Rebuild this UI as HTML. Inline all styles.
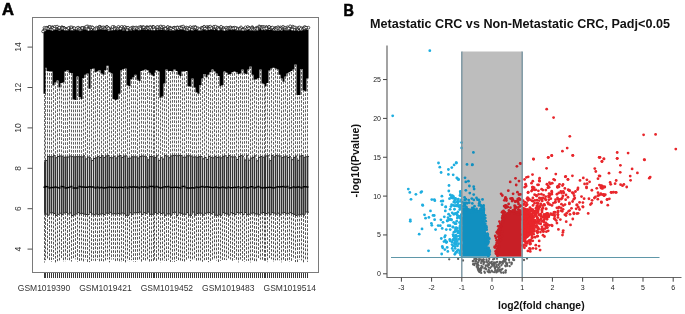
<!DOCTYPE html>
<html><head><meta charset="utf-8"><style>
html,body{margin:0;padding:0;background:#fff;width:685px;height:314px;overflow:hidden}
svg{display:block;filter:blur(0.35px)}
text{font-family:"Liberation Sans",sans-serif}
.ta{font-size:8.5px;fill:#333}
.tx{font-size:8.5px;fill:#333}
.tb{font-size:7px;fill:#1a1a1a}
.lab{font-size:15px;font-weight:bold;fill:#000;stroke:#000;stroke-width:0.6px}
.ttl{font-size:12.6px;font-weight:bold;fill:#111}
.axl{font-size:10.4px;font-weight:bold;fill:#111}
</style></head><body>
<svg width="685" height="314" viewBox="0 0 685 314">
<text x="2" y="14.8" class="lab" style="font-size:16.5px">A</text>
<text x="0" y="0" transform="translate(343.6,15.5) scale(0.84,1)" class="lab" style="font-size:17.2px">B</text>
<rect x="32.5" y="17.5" width="286" height="255" fill="none" stroke="#7a7a7a" stroke-width="1"/><line x1="27.5" x2="32.5" y1="249.1" y2="249.1" stroke="#555" stroke-width="1"/><text x="0" y="0" transform="translate(21,249.1) rotate(-90)" text-anchor="middle" class="ta">4</text><line x1="27.5" x2="32.5" y1="208.7" y2="208.7" stroke="#555" stroke-width="1"/><text x="0" y="0" transform="translate(21,208.7) rotate(-90)" text-anchor="middle" class="ta">6</text><line x1="27.5" x2="32.5" y1="168.3" y2="168.3" stroke="#555" stroke-width="1"/><text x="0" y="0" transform="translate(21,168.3) rotate(-90)" text-anchor="middle" class="ta">8</text><line x1="27.5" x2="32.5" y1="127.9" y2="127.9" stroke="#555" stroke-width="1"/><text x="0" y="0" transform="translate(21,127.9) rotate(-90)" text-anchor="middle" class="ta">10</text><line x1="27.5" x2="32.5" y1="87.5" y2="87.5" stroke="#555" stroke-width="1"/><text x="0" y="0" transform="translate(21,87.5) rotate(-90)" text-anchor="middle" class="ta">12</text><line x1="27.5" x2="32.5" y1="47.1" y2="47.1" stroke="#555" stroke-width="1"/><text x="0" y="0" transform="translate(21,47.1) rotate(-90)" text-anchor="middle" class="ta">14</text><path d="M44.5 273V278M45.5 273V278M47.5 273V278M49.5 273V278M51.5 273V278M53.5 273V278M55.5 273V278M57.5 273V278M59.5 273V278M61.5 273V278M63.5 273V278M65.5 273V278M67.5 273V278M69.5 273V278M71.5 273V278M73.5 273V278M75.5 273V278M77.5 273V278M79.5 273V278M81.5 273V278M83.5 273V278M85.5 273V278M87.5 273V278M89.5 273V278M91.5 273V278M93.5 273V278M95.5 273V278M97.5 273V278M99.5 273V278M101.5 273V278M103.5 273V278M105.5 273V278M107.5 273V278M109.5 273V278M111.5 273V278M113.5 273V278M115.5 273V278M117.5 273V278M119.5 273V278M121.5 273V278M123.5 273V278M125.5 273V278M127.5 273V278M129.5 273V278M131.5 273V278M133.5 273V278M135.5 273V278M137.5 273V278M139.5 273V278M141.5 273V278M143.5 273V278M145.5 273V278M147.5 273V278M149.5 273V278M151.5 273V278M153.5 273V278M154.5 273V278M156.5 273V278M158.5 273V278M160.5 273V278M162.5 273V278M164.5 273V278M166.5 273V278M168.5 273V278M170.5 273V278M172.5 273V278M174.5 273V278M176.5 273V278M178.5 273V278M180.5 273V278M182.5 273V278M184.5 273V278M186.5 273V278M188.5 273V278M190.5 273V278M192.5 273V278M194.5 273V278M196.5 273V278M198.5 273V278M200.5 273V278M202.5 273V278M204.5 273V278M206.5 273V278M208.5 273V278M210.5 273V278M212.5 273V278M214.5 273V278M216.5 273V278M218.5 273V278M220.5 273V278M222.5 273V278M224.5 273V278M226.5 273V278M228.5 273V278M230.5 273V278M232.5 273V278M234.5 273V278M236.5 273V278M238.5 273V278M240.5 273V278M242.5 273V278M244.5 273V278M246.5 273V278M248.5 273V278M250.5 273V278M252.5 273V278M254.5 273V278M256.5 273V278M258.5 273V278M260.5 273V278M262.5 273V278M264.5 273V278M265.5 273V278M267.5 273V278M269.5 273V278M271.5 273V278M273.5 273V278M275.5 273V278M277.5 273V278M279.5 273V278M281.5 273V278M283.5 273V278M285.5 273V278M287.5 273V278M289.5 273V278M291.5 273V278M293.5 273V278M295.5 273V278M297.5 273V278M299.5 273V278M301.5 273V278M303.5 273V278M305.5 273V278M307.5 273V278" stroke="#222" stroke-width="0.9" fill="none"/><text x="44" y="291" text-anchor="middle" class="tx">GSM1019390</text><text x="105.44" y="291" text-anchor="middle" class="tx">GSM1019421</text><text x="166.88" y="291" text-anchor="middle" class="tx">GSM1019452</text><text x="228.33" y="291" text-anchor="middle" class="tx">GSM1019483</text><text x="289.77" y="291" text-anchor="middle" class="tx">GSM1019514</text><path d="M44.5 162.5V93.8M45.5 160.46V67.7M47.5 156.46V70.9M49.5 156.69V71.5M51.5 156.78V71.5M53.5 155.35V85.6M55.5 157.73V82.4M57.5 156.5V80.5M59.5 155.97V87.5M61.5 156.22V83M63.5 157.27V82.4M65.5 157.06V71.5M67.5 157.02V70.3M69.5 156.06V72.8M71.5 156.63V73M73.5 156.83V99.6M75.5 156.7V100M77.5 156.69V76.6M79.5 156.67V97M81.5 156.9V99M83.5 155.76V78M85.5 158.91V74.7M87.5 157.1V73.5M89.5 157.73V88.7M91.5 160.56V69M93.5 158.54V68.4M95.5 157.81V72.2M97.5 156.64V71.5M99.5 157.52V70.3M101.5 155.67V73.5M103.5 157.57V74.7M105.5 155.96V70M107.5 155.38V65.8M109.5 157.61V72.2M111.5 157.8V73.5M113.5 156.26V99M115.5 157.95V100M117.5 156.22V99.6M119.5 155.59V93.8M121.5 157.56V70.3M123.5 156.08V69M125.5 155.85V68.4M127.5 158.33V85.6M129.5 158.18V86.2M131.5 156.7V79.2M133.5 156.86V77.3M135.5 156.88V74.7M137.5 158V79.8M139.5 156.57V81.1M141.5 155.99V70.9M143.5 156.33V70.3M145.5 156.74V69.6M147.5 159.76V70.3M149.5 156.51V72.8M151.5 156.61V74.7M153.5 157.6V76M154.5 157.45V72.8M156.5 155.84V70.3M158.5 160.42V71.5M160.5 157.72V97.7M162.5 159.03V96.4M164.5 155.67V83.6M166.5 156.11V69.6M168.5 157.72V70.9M170.5 155.92V70.9M172.5 155.4V71.5M174.5 155.42V69.6M176.5 155.78V70.9M178.5 155.4V74.7M180.5 155.57V76M182.5 157.28V71.5M184.5 157.23V71.5M186.5 155.75V70.9M188.5 155.79V86.2M190.5 156.07V86.8M192.5 157.13V78.6M194.5 156.85V87.5M196.5 157.34V92.6M198.5 156.62V93.8M200.5 156.6V85M202.5 158.82V78.6M204.5 157.56V74.1M206.5 159.45V77.3M208.5 156.45V74.7M210.5 157.37V72.2M212.5 157.85V69.6M214.5 156.39V71.5M216.5 157.43V73.5M218.5 156.91V76M220.5 157.83V86.2M222.5 156.34V85M224.5 155.84V71.5M226.5 157.54V72.8M228.5 155.6V74.7M230.5 156.82V74.1M232.5 156.99V72.2M234.5 156.74V71.5M236.5 159.51V72.2M238.5 156.54V74.1M240.5 155.58V73.5M242.5 156.27V69.6M244.5 159.98V73.5M246.5 155.71V74.1M248.5 160.21V69.6M250.5 158.08V66.5M252.5 157.38V74.7M254.5 155.88V79.8M256.5 160.77V79.2M258.5 157.39V78M260.5 156.53V69.6M262.5 157.25V83.6M264.5 157.15V84.3M265.5 155.98V86.2M267.5 155.76V83M269.5 160.62V70.5M271.5 155.45V68.4M273.5 156.85V67.7M275.5 155.38V68.4M277.5 155.9V69.6M279.5 156.02V74.7M281.5 157.65V78.6M283.5 156.84V81.7M285.5 156.17V76.6M287.5 157.5V73.5M289.5 156.68V72.2M291.5 159.68V70.9M293.5 157.46V69.6M295.5 156.09V64.5M297.5 160.32V95M299.5 156.06V95M301.5 155.56V69M303.5 157.32V90.6M305.5 156.76V91.3M307.5 156.44V78.6" stroke="#646464" stroke-width="1" stroke-dasharray="2.7 1.35" fill="none"/><path d="M44.5 212.84V262.49M45.5 214.13V260.19M47.5 215.16V259.52M49.5 212.84V260.31M51.5 212.76V261.94M53.5 213.49V259.59M55.5 215.42V262.41M57.5 214.32V261.17M59.5 213.22V261.8M61.5 214.66V259.27M63.5 212.95V261.8M65.5 212.35V261.18M67.5 213.91V259.83M69.5 212.98V260.34M71.5 215.55V261.57M73.5 214.92V259.35M75.5 213.93V259.38M77.5 212.62V261.81M79.5 213.7V261.76M81.5 213.39V260.49M83.5 214.18V261.78M85.5 214.5V259.44M87.5 214.63V262M89.5 212.36V262.11M91.5 214.03V260.95M93.5 214.71V260.5M95.5 214.05V261.11M97.5 214.59V259.81M99.5 214.1V262.45M101.5 213.73V261.18M103.5 214.58V261.43M105.5 213.13V260.6M107.5 213.37V259.46M109.5 212.35V262.31M111.5 213.93V259.57M113.5 213.64V259.56M115.5 213.99V261.1M117.5 213.45V260.99M119.5 214.04V261.41M121.5 213.05V261.98M123.5 213.74V261.18M125.5 215.33V262.32M127.5 215.35V260.27M129.5 212.72V261.51M131.5 214.34V260.21M133.5 212.75V261.78M135.5 212.67V261.98M137.5 212.59V261.25M139.5 212.11V260.31M141.5 214.36V262.17M143.5 212.66V260.56M145.5 213.31V260.57M147.5 212.08V260.74M149.5 214.33V262.49M151.5 214.32V261.13M153.5 213.68V261.25M154.5 212.39V260.8M156.5 213.67V261.6M158.5 212.22V259.98M160.5 213.51V262.33M162.5 213.06V260.91M164.5 215.27V260.66M166.5 213.89V260.99M168.5 213.93V259.75M170.5 215.26V261.96M172.5 212.6V261.71M174.5 212.22V261.89M176.5 215.57V261.01M178.5 212.83V260.71M180.5 213.34V260.9M182.5 214.2V261.03M184.5 214.27V261.9M186.5 212.6V259.69M188.5 215.15V259.36M190.5 215.38V261.19M192.5 212.08V260.34M194.5 215.05V259.79M196.5 213.45V261.08M198.5 213.15V260.38M200.5 213.23V261.33M202.5 215.05V261.77M204.5 213.3V260.19M206.5 212.75V260.64M208.5 212.43V262.1M210.5 213.76V262.45M212.5 212.3V260.66M214.5 215.18V259.87M216.5 215.31V260.51M218.5 214.77V262.2M220.5 215.34V260.85M222.5 212.64V260.03M224.5 213.31V259.97M226.5 214.08V260.09M228.5 215.11V259.68M230.5 212.73V259.51M232.5 213.52V261.04M234.5 214.61V259.77M236.5 212.42V260.48M238.5 212.94V262.38M240.5 212.49V259.48M242.5 214.68V260.86M244.5 212.47V261.61M246.5 214.66V260.8M248.5 214.26V260.91M250.5 213.18V262.4M252.5 212.83V260.57M254.5 213.84V261.31M256.5 214.1V261.26M258.5 214.77V259.27M260.5 213.1V259.64M262.5 212.5V259.74M264.5 213.41V260.74M265.5 213.51V261.69M267.5 212.92V262.12M269.5 214.76V259.3M271.5 212.58V259.27M273.5 213.05V262.02M275.5 214.13V260.33M277.5 213.2V260.2M279.5 214.85V260.33M281.5 213.04V262.32M283.5 212.45V261.1M285.5 213.75V261.77M287.5 213.3V260.41M289.5 212.62V261.63M291.5 213.63V261.66M293.5 214.38V259.29M295.5 215.44V262.04M297.5 214.88V262.04M299.5 214.7V259.77M301.5 214.16V260.4M303.5 215.05V262.49M305.5 212V259.79M307.5 212.16V261.81" stroke="#555" stroke-width="1" stroke-dasharray="2.7 1.35" fill="none"/><g><rect x="45" y="162.5" width="1" height="50.34" fill="#d8d8d8"/><rect x="46" y="160.46" width="1" height="53.67" fill="#b8b8b8"/><rect x="48" y="156.46" width="1" height="58.71" fill="#a8a8a8"/><rect x="50" y="156.69" width="1" height="56.15" fill="#9a9a9a"/><rect x="52" y="156.78" width="1" height="55.98" fill="#b8b8b8"/><rect x="54" y="155.35" width="1" height="58.14" fill="#9a9a9a"/><rect x="56" y="157.73" width="1" height="57.69" fill="#b8b8b8"/><rect x="58" y="156.5" width="1" height="57.82" fill="#d8d8d8"/><rect x="60" y="155.97" width="1" height="57.25" fill="#b8b8b8"/><rect x="62" y="156.22" width="1" height="58.44" fill="#8c8c8c"/><rect x="64" y="157.27" width="1" height="55.68" fill="#9a9a9a"/><rect x="66" y="157.06" width="1" height="55.29" fill="#8c8c8c"/><rect x="68" y="157.02" width="1" height="56.89" fill="#d8d8d8"/><rect x="70" y="156.06" width="1" height="56.92" fill="#c8c8c8"/><rect x="72" y="156.63" width="1" height="58.92" fill="#c8c8c8"/><rect x="74" y="156.83" width="1" height="58.09" fill="#8c8c8c"/><rect x="76" y="156.7" width="1" height="57.24" fill="#9a9a9a"/><rect x="78" y="156.69" width="1" height="55.93" fill="#a8a8a8"/><rect x="80" y="156.67" width="1" height="57.03" fill="#9a9a9a"/><rect x="82" y="156.9" width="1" height="56.49" fill="#b8b8b8"/><rect x="84" y="155.76" width="1" height="58.41" fill="#9a9a9a"/><rect x="86" y="158.91" width="1" height="55.59" fill="#c8c8c8"/><rect x="88" y="157.1" width="1" height="57.54" fill="#c8c8c8"/><rect x="90" y="157.73" width="1" height="54.63" fill="#9a9a9a"/><rect x="92" y="160.56" width="1" height="53.47" fill="#d8d8d8"/><rect x="94" y="158.54" width="1" height="56.17" fill="#c8c8c8"/><rect x="96" y="157.81" width="1" height="56.23" fill="#8c8c8c"/><rect x="98" y="156.64" width="1" height="57.94" fill="#a8a8a8"/><rect x="100" y="157.52" width="1" height="56.58" fill="#b8b8b8"/><rect x="102" y="155.67" width="1" height="58.05" fill="#8c8c8c"/><rect x="104" y="157.57" width="1" height="57.01" fill="#b8b8b8"/><rect x="106" y="155.96" width="1" height="57.17" fill="#9a9a9a"/><rect x="108" y="155.38" width="1" height="57.99" fill="#8c8c8c"/><rect x="110" y="157.61" width="1" height="54.74" fill="#b8b8b8"/><rect x="112" y="157.8" width="1" height="56.13" fill="#b8b8b8"/><rect x="114" y="156.26" width="1" height="57.37" fill="#b8b8b8"/><rect x="116" y="157.95" width="1" height="56.04" fill="#9a9a9a"/><rect x="118" y="156.22" width="1" height="57.23" fill="#b8b8b8"/><rect x="120" y="155.59" width="1" height="58.45" fill="#8c8c8c"/><rect x="122" y="157.56" width="1" height="55.5" fill="#c8c8c8"/><rect x="124" y="156.08" width="1" height="57.66" fill="#9a9a9a"/><rect x="126" y="155.85" width="1" height="59.48" fill="#b8b8b8"/><rect x="128" y="158.33" width="1" height="57.02" fill="#8c8c8c"/><rect x="130" y="158.18" width="1" height="54.54" fill="#b8b8b8"/><rect x="132" y="156.7" width="1" height="57.64" fill="#8c8c8c"/><rect x="134" y="156.86" width="1" height="55.89" fill="#c8c8c8"/><rect x="136" y="156.88" width="1" height="55.78" fill="#b8b8b8"/><rect x="138" y="158" width="1" height="54.59" fill="#9a9a9a"/><rect x="140" y="156.57" width="1" height="55.54" fill="#b8b8b8"/><rect x="142" y="155.99" width="1" height="58.37" fill="#c8c8c8"/><rect x="144" y="156.33" width="1" height="56.34" fill="#d8d8d8"/><rect x="146" y="156.74" width="1" height="56.57" fill="#8c8c8c"/><rect x="148" y="159.76" width="1" height="52.32" fill="#8c8c8c"/><rect x="150" y="156.51" width="1" height="57.81" fill="#a8a8a8"/><rect x="152" y="156.61" width="1" height="57.71" fill="#a8a8a8"/><rect x="154" y="157.6" width="1" height="56.09" fill="#9a9a9a"/><rect x="155" y="157.45" width="1" height="54.95" fill="#8c8c8c"/><rect x="157" y="155.84" width="1" height="57.84" fill="#b8b8b8"/><rect x="159" y="160.42" width="1" height="51.81" fill="#b8b8b8"/><rect x="161" y="157.72" width="1" height="55.79" fill="#c8c8c8"/><rect x="163" y="159.03" width="1" height="54.03" fill="#9a9a9a"/><rect x="165" y="155.67" width="1" height="59.6" fill="#c8c8c8"/><rect x="167" y="156.11" width="1" height="57.78" fill="#b8b8b8"/><rect x="169" y="157.72" width="1" height="56.21" fill="#a8a8a8"/><rect x="171" y="155.92" width="1" height="59.34" fill="#9a9a9a"/><rect x="173" y="155.4" width="1" height="57.2" fill="#a8a8a8"/><rect x="175" y="155.42" width="1" height="56.8" fill="#d8d8d8"/><rect x="177" y="155.78" width="1" height="59.8" fill="#b8b8b8"/><rect x="179" y="155.4" width="1" height="57.43" fill="#b8b8b8"/><rect x="181" y="155.57" width="1" height="57.77" fill="#8c8c8c"/><rect x="183" y="157.28" width="1" height="56.92" fill="#c8c8c8"/><rect x="185" y="157.23" width="1" height="57.04" fill="#b8b8b8"/><rect x="187" y="155.75" width="1" height="56.85" fill="#8c8c8c"/><rect x="189" y="155.79" width="1" height="59.36" fill="#d8d8d8"/><rect x="191" y="156.07" width="1" height="59.31" fill="#9a9a9a"/><rect x="193" y="157.13" width="1" height="54.95" fill="#c8c8c8"/><rect x="195" y="156.85" width="1" height="58.21" fill="#a8a8a8"/><rect x="197" y="157.34" width="1" height="56.11" fill="#8c8c8c"/><rect x="199" y="156.62" width="1" height="56.53" fill="#8c8c8c"/><rect x="201" y="156.6" width="1" height="56.63" fill="#b8b8b8"/><rect x="203" y="158.82" width="1" height="56.23" fill="#c8c8c8"/><rect x="205" y="157.56" width="1" height="55.75" fill="#c8c8c8"/><rect x="207" y="159.45" width="1" height="53.3" fill="#9a9a9a"/><rect x="209" y="156.45" width="1" height="55.99" fill="#c8c8c8"/><rect x="211" y="157.37" width="1" height="56.4" fill="#a8a8a8"/><rect x="213" y="157.85" width="1" height="54.46" fill="#b8b8b8"/><rect x="215" y="156.39" width="1" height="58.79" fill="#9a9a9a"/><rect x="217" y="157.43" width="1" height="57.87" fill="#c8c8c8"/><rect x="219" y="156.91" width="1" height="57.86" fill="#8c8c8c"/><rect x="221" y="157.83" width="1" height="57.51" fill="#b8b8b8"/><rect x="223" y="156.34" width="1" height="56.3" fill="#8c8c8c"/><rect x="225" y="155.84" width="1" height="57.47" fill="#d8d8d8"/><rect x="227" y="157.54" width="1" height="56.55" fill="#8c8c8c"/><rect x="229" y="155.6" width="1" height="59.51" fill="#b8b8b8"/><rect x="231" y="156.82" width="1" height="55.92" fill="#d8d8d8"/><rect x="233" y="156.99" width="1" height="56.53" fill="#c8c8c8"/><rect x="235" y="156.74" width="1" height="57.87" fill="#a8a8a8"/><rect x="237" y="159.51" width="1" height="52.91" fill="#b8b8b8"/><rect x="239" y="156.54" width="1" height="56.4" fill="#d8d8d8"/><rect x="241" y="155.58" width="1" height="56.91" fill="#b8b8b8"/><rect x="243" y="156.27" width="1" height="58.41" fill="#c8c8c8"/><rect x="245" y="159.98" width="1" height="52.49" fill="#8c8c8c"/><rect x="247" y="155.71" width="1" height="58.95" fill="#a8a8a8"/><rect x="249" y="160.21" width="1" height="54.05" fill="#d8d8d8"/><rect x="251" y="158.08" width="1" height="55.1" fill="#a8a8a8"/><rect x="253" y="157.38" width="1" height="55.45" fill="#b8b8b8"/><rect x="255" y="155.88" width="1" height="57.96" fill="#c8c8c8"/><rect x="257" y="160.77" width="1" height="53.33" fill="#a8a8a8"/><rect x="259" y="157.39" width="1" height="57.39" fill="#d8d8d8"/><rect x="261" y="156.53" width="1" height="56.57" fill="#9a9a9a"/><rect x="263" y="157.25" width="1" height="55.25" fill="#b8b8b8"/><rect x="265" y="157.15" width="1" height="56.26" fill="#9a9a9a"/><rect x="266" y="155.98" width="1" height="57.53" fill="#d8d8d8"/><rect x="268" y="155.76" width="1" height="57.15" fill="#b8b8b8"/><rect x="270" y="160.62" width="1" height="54.13" fill="#9a9a9a"/><rect x="272" y="155.45" width="1" height="57.13" fill="#8c8c8c"/><rect x="274" y="156.85" width="1" height="56.21" fill="#c8c8c8"/><rect x="276" y="155.38" width="1" height="58.75" fill="#a8a8a8"/><rect x="278" y="155.9" width="1" height="57.3" fill="#d8d8d8"/><rect x="280" y="156.02" width="1" height="58.83" fill="#b8b8b8"/><rect x="282" y="157.65" width="1" height="55.39" fill="#a8a8a8"/><rect x="284" y="156.84" width="1" height="55.6" fill="#b8b8b8"/><rect x="286" y="156.17" width="1" height="57.58" fill="#a8a8a8"/><rect x="288" y="157.5" width="1" height="55.8" fill="#d8d8d8"/><rect x="290" y="156.68" width="1" height="55.94" fill="#b8b8b8"/><rect x="292" y="159.68" width="1" height="53.94" fill="#c8c8c8"/><rect x="294" y="157.46" width="1" height="56.93" fill="#8c8c8c"/><rect x="296" y="156.09" width="1" height="59.35" fill="#8c8c8c"/><rect x="298" y="160.32" width="1" height="54.56" fill="#a8a8a8"/><rect x="300" y="156.06" width="1" height="58.64" fill="#a8a8a8"/><rect x="302" y="155.56" width="1" height="58.6" fill="#8c8c8c"/><rect x="304" y="157.32" width="1" height="57.73" fill="#8c8c8c"/><rect x="306" y="156.76" width="1" height="55.24" fill="#a8a8a8"/><rect x="308" y="156.44" width="1" height="55.72" fill="#b8b8b8"/></g><path d="M44.5 162.5V212.84M44 162.5H46M44 212.84H46M45.5 160.46V214.13M45 160.46H47M45 214.13H47M47.5 156.46V215.16M47 156.46H49M47 215.16H49M49.5 156.69V212.84M49 156.69H51M49 212.84H51M51.5 156.78V212.76M51 156.78H53M51 212.76H53M53.5 155.35V213.49M53 155.35H55M53 213.49H55M55.5 157.73V215.42M55 157.73H57M55 215.42H57M57.5 156.5V214.32M57 156.5H59M57 214.32H59M59.5 155.97V213.22M59 155.97H61M59 213.22H61M61.5 156.22V214.66M61 156.22H63M61 214.66H63M63.5 157.27V212.95M63 157.27H65M63 212.95H65M65.5 157.06V212.35M65 157.06H67M65 212.35H67M67.5 157.02V213.91M67 157.02H69M67 213.91H69M69.5 156.06V212.98M69 156.06H71M69 212.98H71M71.5 156.63V215.55M71 156.63H73M71 215.55H73M73.5 156.83V214.92M73 156.83H75M73 214.92H75M75.5 156.7V213.93M75 156.7H77M75 213.93H77M77.5 156.69V212.62M77 156.69H79M77 212.62H79M79.5 156.67V213.7M79 156.67H81M79 213.7H81M81.5 156.9V213.39M81 156.9H83M81 213.39H83M83.5 155.76V214.18M83 155.76H85M83 214.18H85M85.5 158.91V214.5M85 158.91H87M85 214.5H87M87.5 157.1V214.63M87 157.1H89M87 214.63H89M89.5 157.73V212.36M89 157.73H91M89 212.36H91M91.5 160.56V214.03M91 160.56H93M91 214.03H93M93.5 158.54V214.71M93 158.54H95M93 214.71H95M95.5 157.81V214.05M95 157.81H97M95 214.05H97M97.5 156.64V214.59M97 156.64H99M97 214.59H99M99.5 157.52V214.1M99 157.52H101M99 214.1H101M101.5 155.67V213.73M101 155.67H103M101 213.73H103M103.5 157.57V214.58M103 157.57H105M103 214.58H105M105.5 155.96V213.13M105 155.96H107M105 213.13H107M107.5 155.38V213.37M107 155.38H109M107 213.37H109M109.5 157.61V212.35M109 157.61H111M109 212.35H111M111.5 157.8V213.93M111 157.8H113M111 213.93H113M113.5 156.26V213.64M113 156.26H115M113 213.64H115M115.5 157.95V213.99M115 157.95H117M115 213.99H117M117.5 156.22V213.45M117 156.22H119M117 213.45H119M119.5 155.59V214.04M119 155.59H121M119 214.04H121M121.5 157.56V213.05M121 157.56H123M121 213.05H123M123.5 156.08V213.74M123 156.08H125M123 213.74H125M125.5 155.85V215.33M125 155.85H127M125 215.33H127M127.5 158.33V215.35M127 158.33H129M127 215.35H129M129.5 158.18V212.72M129 158.18H131M129 212.72H131M131.5 156.7V214.34M131 156.7H133M131 214.34H133M133.5 156.86V212.75M133 156.86H135M133 212.75H135M135.5 156.88V212.67M135 156.88H137M135 212.67H137M137.5 158V212.59M137 158H139M137 212.59H139M139.5 156.57V212.11M139 156.57H141M139 212.11H141M141.5 155.99V214.36M141 155.99H143M141 214.36H143M143.5 156.33V212.66M143 156.33H145M143 212.66H145M145.5 156.74V213.31M145 156.74H147M145 213.31H147M147.5 159.76V212.08M147 159.76H149M147 212.08H149M149.5 156.51V214.33M149 156.51H151M149 214.33H151M151.5 156.61V214.32M151 156.61H153M151 214.32H153M153.5 157.6V213.68M153 157.6H155M153 213.68H155M154.5 157.45V212.39M154 157.45H156M154 212.39H156M156.5 155.84V213.67M156 155.84H158M156 213.67H158M158.5 160.42V212.22M158 160.42H160M158 212.22H160M160.5 157.72V213.51M160 157.72H162M160 213.51H162M162.5 159.03V213.06M162 159.03H164M162 213.06H164M164.5 155.67V215.27M164 155.67H166M164 215.27H166M166.5 156.11V213.89M166 156.11H168M166 213.89H168M168.5 157.72V213.93M168 157.72H170M168 213.93H170M170.5 155.92V215.26M170 155.92H172M170 215.26H172M172.5 155.4V212.6M172 155.4H174M172 212.6H174M174.5 155.42V212.22M174 155.42H176M174 212.22H176M176.5 155.78V215.57M176 155.78H178M176 215.57H178M178.5 155.4V212.83M178 155.4H180M178 212.83H180M180.5 155.57V213.34M180 155.57H182M180 213.34H182M182.5 157.28V214.2M182 157.28H184M182 214.2H184M184.5 157.23V214.27M184 157.23H186M184 214.27H186M186.5 155.75V212.6M186 155.75H188M186 212.6H188M188.5 155.79V215.15M188 155.79H190M188 215.15H190M190.5 156.07V215.38M190 156.07H192M190 215.38H192M192.5 157.13V212.08M192 157.13H194M192 212.08H194M194.5 156.85V215.05M194 156.85H196M194 215.05H196M196.5 157.34V213.45M196 157.34H198M196 213.45H198M198.5 156.62V213.15M198 156.62H200M198 213.15H200M200.5 156.6V213.23M200 156.6H202M200 213.23H202M202.5 158.82V215.05M202 158.82H204M202 215.05H204M204.5 157.56V213.3M204 157.56H206M204 213.3H206M206.5 159.45V212.75M206 159.45H208M206 212.75H208M208.5 156.45V212.43M208 156.45H210M208 212.43H210M210.5 157.37V213.76M210 157.37H212M210 213.76H212M212.5 157.85V212.3M212 157.85H214M212 212.3H214M214.5 156.39V215.18M214 156.39H216M214 215.18H216M216.5 157.43V215.31M216 157.43H218M216 215.31H218M218.5 156.91V214.77M218 156.91H220M218 214.77H220M220.5 157.83V215.34M220 157.83H222M220 215.34H222M222.5 156.34V212.64M222 156.34H224M222 212.64H224M224.5 155.84V213.31M224 155.84H226M224 213.31H226M226.5 157.54V214.08M226 157.54H228M226 214.08H228M228.5 155.6V215.11M228 155.6H230M228 215.11H230M230.5 156.82V212.73M230 156.82H232M230 212.73H232M232.5 156.99V213.52M232 156.99H234M232 213.52H234M234.5 156.74V214.61M234 156.74H236M234 214.61H236M236.5 159.51V212.42M236 159.51H238M236 212.42H238M238.5 156.54V212.94M238 156.54H240M238 212.94H240M240.5 155.58V212.49M240 155.58H242M240 212.49H242M242.5 156.27V214.68M242 156.27H244M242 214.68H244M244.5 159.98V212.47M244 159.98H246M244 212.47H246M246.5 155.71V214.66M246 155.71H248M246 214.66H248M248.5 160.21V214.26M248 160.21H250M248 214.26H250M250.5 158.08V213.18M250 158.08H252M250 213.18H252M252.5 157.38V212.83M252 157.38H254M252 212.83H254M254.5 155.88V213.84M254 155.88H256M254 213.84H256M256.5 160.77V214.1M256 160.77H258M256 214.1H258M258.5 157.39V214.77M258 157.39H260M258 214.77H260M260.5 156.53V213.1M260 156.53H262M260 213.1H262M262.5 157.25V212.5M262 157.25H264M262 212.5H264M264.5 157.15V213.41M264 157.15H266M264 213.41H266M265.5 155.98V213.51M265 155.98H267M265 213.51H267M267.5 155.76V212.92M267 155.76H269M267 212.92H269M269.5 160.62V214.76M269 160.62H271M269 214.76H271M271.5 155.45V212.58M271 155.45H273M271 212.58H273M273.5 156.85V213.05M273 156.85H275M273 213.05H275M275.5 155.38V214.13M275 155.38H277M275 214.13H277M277.5 155.9V213.2M277 155.9H279M277 213.2H279M279.5 156.02V214.85M279 156.02H281M279 214.85H281M281.5 157.65V213.04M281 157.65H283M281 213.04H283M283.5 156.84V212.45M283 156.84H285M283 212.45H285M285.5 156.17V213.75M285 156.17H287M285 213.75H287M287.5 157.5V213.3M287 157.5H289M287 213.3H289M289.5 156.68V212.62M289 156.68H291M289 212.62H291M291.5 159.68V213.63M291 159.68H293M291 213.63H293M293.5 157.46V214.38M293 157.46H295M293 214.38H295M295.5 156.09V215.44M295 156.09H297M295 215.44H297M297.5 160.32V214.88M297 160.32H299M297 214.88H299M299.5 156.06V214.7M299 156.06H301M299 214.7H301M301.5 155.56V214.16M301 155.56H303M301 214.16H303M303.5 157.32V215.05M303 157.32H305M303 215.05H305M305.5 156.76V212M305 156.76H307M305 212H307M307.5 156.44V212.16M307 156.44H309M307 212.16H309" stroke="#333" stroke-width="1" fill="none"/><path d="M43.5 187.25H45.5M44.5 186.55H46.5M46.5 186.72H48.5M48.5 187.97H50.5M50.5 187.42H52.5M52.5 187.47H54.5M54.5 186.97H56.5M56.5 187.39H58.5M58.5 188.08H60.5M60.5 186.6H62.5M62.5 186.67H64.5M64.5 188.02H66.5M66.5 187.79H68.5M68.5 187.17H70.5M70.5 186.55H72.5M72.5 187.95H74.5M74.5 187.96H76.5M76.5 187.97H78.5M78.5 186.5H80.5M80.5 186.99H82.5M82.5 187.11H84.5M84.5 187.18H86.5M86.5 187.35H88.5M88.5 186.79H90.5M90.5 186.88H92.5M92.5 187.09H94.5M94.5 187.98H96.5M96.5 186.93H98.5M98.5 187.92H100.5M100.5 187.25H102.5M102.5 188.03H104.5M104.5 187.67H106.5M106.5 187.53H108.5M108.5 187.1H110.5M110.5 187.29H112.5M112.5 187.4H114.5M114.5 187.13H116.5M116.5 187.73H118.5M118.5 187.13H120.5M120.5 187.21H122.5M122.5 187.66H124.5M124.5 186.68H126.5M126.5 187.89H128.5M128.5 186.85H130.5M130.5 187.24H132.5M132.5 186.73H134.5M134.5 187.14H136.5M136.5 187.05H138.5M138.5 188.09H140.5M140.5 186.82H142.5M142.5 187.31H144.5M144.5 186.87H146.5M146.5 187.71H148.5M148.5 186.5H150.5M150.5 186.52H152.5M152.5 186.57H154.5M153.5 187.57H155.5M155.5 186.62H157.5M157.5 187.2H159.5M159.5 187.94H161.5M161.5 187.52H163.5M163.5 186.83H165.5M165.5 187.08H167.5M167.5 186.58H169.5M169.5 187.47H171.5M171.5 187.4H173.5M173.5 187.24H175.5M175.5 187.15H177.5M177.5 187.44H179.5M179.5 187.93H181.5M181.5 186.56H183.5M183.5 186.51H185.5M185.5 187.63H187.5M187.5 188.04H189.5M189.5 188H191.5M191.5 187.7H193.5M193.5 188.04H195.5M195.5 187.1H197.5M197.5 187.46H199.5M199.5 186.95H201.5M201.5 186.59H203.5M203.5 187.31H205.5M205.5 186.81H207.5M207.5 187.11H209.5M209.5 187.26H211.5M211.5 187.71H213.5M213.5 187.13H215.5M215.5 187.05H217.5M217.5 187.87H219.5M219.5 187.85H221.5M221.5 186.92H223.5M223.5 187.59H225.5M225.5 187.94H227.5M227.5 187.01H229.5M229.5 187.72H231.5M231.5 187.72H233.5M233.5 187.13H235.5M235.5 187.39H237.5M237.5 186.8H239.5M239.5 188.07H241.5M241.5 187.6H243.5M243.5 186.83H245.5M245.5 187.68H247.5M247.5 187.63H249.5M249.5 186.66H251.5M251.5 186.65H253.5M253.5 188.08H255.5M255.5 187.2H257.5M257.5 186.54H259.5M259.5 187.5H261.5M261.5 188.04H263.5M263.5 187.46H265.5M264.5 187.65H266.5M266.5 187.4H268.5M268.5 187.16H270.5M270.5 187.41H272.5M272.5 187.95H274.5M274.5 187.38H276.5M276.5 186.85H278.5M278.5 186.97H280.5M280.5 186.82H282.5M282.5 186.54H284.5M284.5 187.2H286.5M286.5 186.52H288.5M288.5 188.04H290.5M290.5 187.77H292.5M292.5 186.84H294.5M294.5 187.62H296.5M296.5 186.95H298.5M298.5 187.1H300.5M300.5 188.02H302.5M302.5 186.64H304.5M304.5 186.82H306.5M306.5 187.01H308.5" stroke="#000" stroke-width="1.5" fill="none"/><path d="M43.5 31.93H45.5V93.8H43.5ZM44.5 29.77H46.5V67.7H44.5ZM46.5 29.76H48.5V70.9H46.5ZM48.5 29.46H50.5V71.5H48.5ZM50.5 30.3H52.5V71.5H50.5ZM52.5 29.27H54.5V85.6H52.5ZM54.5 29.63H56.5V82.4H54.5ZM56.5 29.32H58.5V80.5H56.5ZM58.5 30.46H60.5V87.5H58.5ZM60.5 29.13H62.5V83H60.5ZM62.5 29.13H64.5V82.4H62.5ZM64.5 30.46H66.5V71.5H64.5ZM66.5 30.27H68.5V70.3H66.5ZM68.5 29.36H70.5V72.8H68.5ZM70.5 29.9H72.5V73H70.5ZM72.5 30.27H74.5V99.6H72.5ZM74.5 29.82H76.5V100H74.5ZM76.5 29.58H78.5V76.6H76.5ZM78.5 30.25H80.5V97H78.5ZM80.5 30.19H82.5V99H80.5ZM82.5 29.37H84.5V78H82.5ZM84.5 29.97H86.5V74.7H84.5ZM86.5 29.28H88.5V73.5H86.5ZM88.5 30.03H90.5V88.7H88.5ZM90.5 29.58H92.5V69H90.5ZM92.5 30.15H94.5V68.4H92.5ZM94.5 30.41H96.5V72.2H94.5ZM96.5 29.78H98.5V71.5H96.5ZM98.5 29.31H100.5V70.3H98.5ZM100.5 29.13H102.5V73.5H100.5ZM102.5 29.88H104.5V74.7H102.5ZM104.5 29.44H106.5V70H104.5ZM106.5 29.27H108.5V65.8H106.5ZM108.5 30.44H110.5V72.2H108.5ZM110.5 30.16H112.5V73.5H110.5ZM112.5 29.18H114.5V99H112.5ZM114.5 30H116.5V100H114.5ZM116.5 29.47H118.5V99.6H116.5ZM118.5 29.8H120.5V93.8H118.5ZM120.5 29.28H122.5V70.3H120.5ZM122.5 30.43H124.5V69H122.5ZM124.5 29.25H126.5V68.4H124.5ZM126.5 30.44H128.5V85.6H126.5ZM128.5 30.07H130.5V86.2H128.5ZM130.5 29.25H132.5V79.2H130.5ZM132.5 29.66H134.5V77.3H132.5ZM134.5 29.85H136.5V74.7H134.5ZM136.5 29.67H138.5V79.8H136.5ZM138.5 29.93H140.5V81.1H138.5ZM140.5 29.23H142.5V70.9H140.5ZM142.5 29.58H144.5V70.3H142.5ZM144.5 29.57H146.5V69.6H144.5ZM146.5 29.77H148.5V70.3H146.5ZM148.5 30.02H150.5V72.8H148.5ZM150.5 29.66H152.5V74.7H150.5ZM152.5 29.5H154.5V76H152.5ZM153.5 29.94H155.5V72.8H153.5ZM155.5 29.58H157.5V70.3H155.5ZM157.5 29.37H159.5V71.5H157.5ZM159.5 29.41H161.5V97.7H159.5ZM161.5 29.78H163.5V96.4H161.5ZM163.5 29.37H165.5V83.6H163.5ZM165.5 30.17H167.5V69.6H165.5ZM167.5 29.5H169.5V70.9H167.5ZM169.5 30.48H171.5V70.9H169.5ZM171.5 29.73H173.5V71.5H171.5ZM173.5 30.14H175.5V69.6H173.5ZM175.5 30.03H177.5V70.9H175.5ZM177.5 29.72H179.5V74.7H177.5ZM179.5 29.14H181.5V76H179.5ZM181.5 29.73H183.5V71.5H181.5ZM183.5 29.45H185.5V71.5H183.5ZM185.5 30.46H187.5V70.9H185.5ZM187.5 30.49H189.5V86.2H187.5ZM189.5 29.4H191.5V86.8H189.5ZM191.5 30.42H193.5V78.6H191.5ZM193.5 29.9H195.5V87.5H193.5ZM195.5 29.54H197.5V92.6H195.5ZM197.5 30.17H199.5V93.8H197.5ZM199.5 30.41H201.5V85H199.5ZM201.5 29.73H203.5V78.6H201.5ZM203.5 29.64H205.5V74.1H203.5ZM205.5 29.71H207.5V77.3H205.5ZM207.5 29.85H209.5V74.7H207.5ZM209.5 29.29H211.5V72.2H209.5ZM211.5 29.64H213.5V69.6H211.5ZM213.5 29.19H215.5V71.5H213.5ZM215.5 29.17H217.5V73.5H215.5ZM217.5 30.03H219.5V76H217.5ZM219.5 29.84H221.5V86.2H219.5ZM221.5 29.36H223.5V85H221.5ZM223.5 30.45H225.5V71.5H223.5ZM225.5 29.65H227.5V72.8H225.5ZM227.5 29.79H229.5V74.7H227.5ZM229.5 29.84H231.5V74.1H229.5ZM231.5 29.93H233.5V72.2H231.5ZM233.5 29.77H235.5V71.5H233.5ZM235.5 30.37H237.5V72.2H235.5ZM237.5 29.66H239.5V74.1H237.5ZM239.5 30.19H241.5V73.5H239.5ZM241.5 30.46H243.5V69.6H241.5ZM243.5 30.47H245.5V73.5H243.5ZM245.5 30.12H247.5V74.1H245.5ZM247.5 29.26H249.5V69.6H247.5ZM249.5 30.49H251.5V66.5H249.5ZM251.5 29.64H253.5V74.7H251.5ZM253.5 30.47H255.5V79.8H253.5ZM255.5 30.03H257.5V79.2H255.5ZM257.5 29.53H259.5V78H257.5ZM259.5 29.11H261.5V69.6H259.5ZM261.5 29.67H263.5V83.6H261.5ZM263.5 29.82H265.5V84.3H263.5ZM264.5 29.55H266.5V86.2H264.5ZM266.5 29.18H268.5V83H266.5ZM268.5 29.63H270.5V70.5H268.5ZM270.5 29.95H272.5V68.4H270.5ZM272.5 30.22H274.5V67.7H272.5ZM274.5 30.49H276.5V68.4H274.5ZM276.5 30.47H278.5V69.6H276.5ZM278.5 29.39H280.5V74.7H278.5ZM280.5 30.46H282.5V78.6H280.5ZM282.5 29.54H284.5V81.7H282.5ZM284.5 29.58H286.5V76.6H284.5ZM286.5 29.78H288.5V73.5H286.5ZM288.5 29.56H290.5V72.2H288.5ZM290.5 29.21H292.5V70.9H290.5ZM292.5 30.05H294.5V69.6H292.5ZM294.5 29.72H296.5V64.5H294.5ZM296.5 30.46H298.5V95H296.5ZM298.5 30.16H300.5V95H298.5ZM300.5 30.4H302.5V69H300.5ZM302.5 30H304.5V90.6H302.5ZM304.5 29.2H306.5V91.3H304.5ZM306.5 29.74H308.5V78.6H306.5Z" fill="#000"/><g fill="#fff" stroke="#000" stroke-width="0.65"><circle cx="44.11" cy="30.16" r="1.35"/><circle cx="44.88" cy="30" r="1.35"/><circle cx="43.04" cy="31.46" r="1.35"/><circle cx="44.45" cy="27.74" r="1.35"/><circle cx="46.6" cy="27.75" r="1.35"/><circle cx="46.22" cy="28.05" r="1.35"/><circle cx="48.64" cy="27.52" r="1.35"/><circle cx="48.76" cy="27.53" r="1.35"/><circle cx="48.4" cy="28.4" r="1.35"/><circle cx="50.34" cy="27.35" r="1.35"/><circle cx="49.26" cy="26.85" r="1.35"/><circle cx="49.72" cy="26.91" r="1.35"/><circle cx="52.01" cy="27.32" r="1.35"/><circle cx="52.58" cy="29.56" r="1.35"/><circle cx="52.71" cy="27.39" r="1.35"/><circle cx="53.92" cy="27.67" r="1.35"/><circle cx="53.03" cy="27.67" r="1.35"/><circle cx="54.69" cy="28.79" r="1.35"/><circle cx="55.65" cy="27.75" r="1.35"/><circle cx="54.84" cy="26.84" r="1.35"/><circle cx="54.11" cy="28.69" r="1.35"/><circle cx="58.6" cy="28.9" r="1.35"/><circle cx="58.88" cy="28.17" r="1.35"/><circle cx="57.13" cy="26.6" r="1.35"/><circle cx="58.81" cy="27.97" r="1.35"/><circle cx="60.15" cy="28.45" r="1.35"/><circle cx="59.31" cy="27.63" r="1.35"/><circle cx="61.9" cy="27.17" r="1.35"/><circle cx="61.88" cy="28.67" r="1.35"/><circle cx="62.04" cy="27.57" r="1.35"/><circle cx="63.88" cy="27.83" r="1.35"/><circle cx="63.8" cy="28.02" r="1.35"/><circle cx="62.56" cy="28.35" r="1.35"/><circle cx="64.39" cy="28.31" r="1.35"/><circle cx="65.96" cy="28.81" r="1.35"/><circle cx="64.98" cy="29.43" r="1.35"/><circle cx="68.57" cy="28.78" r="1.35"/><circle cx="67.01" cy="29.51" r="1.35"/><circle cx="68.65" cy="28.21" r="1.35"/><circle cx="70.42" cy="28.3" r="1.35"/><circle cx="70.42" cy="27.32" r="1.35"/><circle cx="68.39" cy="28.12" r="1.35"/><circle cx="71.24" cy="29.5" r="1.35"/><circle cx="71.43" cy="29.06" r="1.35"/><circle cx="71.87" cy="27.35" r="1.35"/><circle cx="73.56" cy="28.18" r="1.35"/><circle cx="73.02" cy="29.19" r="1.35"/><circle cx="72.2" cy="29.36" r="1.35"/><circle cx="76.65" cy="28.98" r="1.35"/><circle cx="74.15" cy="28.36" r="1.35"/><circle cx="74.36" cy="28.22" r="1.35"/><circle cx="78.58" cy="28.6" r="1.35"/><circle cx="78.35" cy="27.99" r="1.35"/><circle cx="76.59" cy="28.33" r="1.35"/><circle cx="79.89" cy="29.93" r="1.35"/><circle cx="78.15" cy="27.62" r="1.35"/><circle cx="78.81" cy="29.22" r="1.35"/><circle cx="80.15" cy="29.76" r="1.35"/><circle cx="80.1" cy="28.58" r="1.35"/><circle cx="81.55" cy="27.96" r="1.35"/><circle cx="82.37" cy="28.18" r="1.35"/><circle cx="84.15" cy="27.57" r="1.35"/><circle cx="82.24" cy="28.04" r="1.35"/><circle cx="85.12" cy="28.51" r="1.35"/><circle cx="86.11" cy="28.33" r="1.35"/><circle cx="86.08" cy="28.54" r="1.35"/><circle cx="86.98" cy="28.91" r="1.35"/><circle cx="87.68" cy="26.37" r="1.35"/><circle cx="86.36" cy="26.63" r="1.35"/><circle cx="89.69" cy="27.75" r="1.35"/><circle cx="89.76" cy="29.46" r="1.35"/><circle cx="88.43" cy="29.72" r="1.35"/><circle cx="90.08" cy="26.98" r="1.35"/><circle cx="91.45" cy="28.97" r="1.35"/><circle cx="90.85" cy="27.4" r="1.35"/><circle cx="92.18" cy="27.33" r="1.35"/><circle cx="93.69" cy="28.97" r="1.35"/><circle cx="92.73" cy="27.61" r="1.35"/><circle cx="96.9" cy="28.61" r="1.35"/><circle cx="94.71" cy="29.1" r="1.35"/><circle cx="96.53" cy="27.6" r="1.35"/><circle cx="98.69" cy="27.74" r="1.35"/><circle cx="96.29" cy="29.07" r="1.35"/><circle cx="98.75" cy="27.46" r="1.35"/><circle cx="100.8" cy="27.61" r="1.35"/><circle cx="99.61" cy="26.71" r="1.35"/><circle cx="100.01" cy="26.9" r="1.35"/><circle cx="101.15" cy="27.54" r="1.35"/><circle cx="101.08" cy="28.37" r="1.35"/><circle cx="102.32" cy="27.96" r="1.35"/><circle cx="104.16" cy="28.28" r="1.35"/><circle cx="103.2" cy="27.27" r="1.35"/><circle cx="104.88" cy="27.6" r="1.35"/><circle cx="104.78" cy="28.63" r="1.35"/><circle cx="106.11" cy="28.63" r="1.35"/><circle cx="106.7" cy="26.82" r="1.35"/><circle cx="108.74" cy="28.25" r="1.35"/><circle cx="107.36" cy="28.87" r="1.35"/><circle cx="107.01" cy="26.98" r="1.35"/><circle cx="109.63" cy="29.08" r="1.35"/><circle cx="108.82" cy="29.82" r="1.35"/><circle cx="108.34" cy="28.34" r="1.35"/><circle cx="112.03" cy="29.06" r="1.35"/><circle cx="112.42" cy="28.09" r="1.35"/><circle cx="112.26" cy="29.14" r="1.35"/><circle cx="114.18" cy="28.09" r="1.35"/><circle cx="113.94" cy="26.88" r="1.35"/><circle cx="112.45" cy="26.91" r="1.35"/><circle cx="115.26" cy="27.95" r="1.35"/><circle cx="114.56" cy="28.89" r="1.35"/><circle cx="116.35" cy="28.4" r="1.35"/><circle cx="118.62" cy="28.14" r="1.35"/><circle cx="117.51" cy="29.06" r="1.35"/><circle cx="118.31" cy="28.5" r="1.35"/><circle cx="118.45" cy="26.81" r="1.35"/><circle cx="120.04" cy="27.9" r="1.35"/><circle cx="120.73" cy="27.97" r="1.35"/><circle cx="122.58" cy="27.34" r="1.35"/><circle cx="121.63" cy="26.82" r="1.35"/><circle cx="120.54" cy="28.52" r="1.35"/><circle cx="123.66" cy="29.09" r="1.35"/><circle cx="123.9" cy="28.55" r="1.35"/><circle cx="124.06" cy="27.49" r="1.35"/><circle cx="124.7" cy="26.91" r="1.35"/><circle cx="125.88" cy="28.48" r="1.35"/><circle cx="126.35" cy="28.41" r="1.35"/><circle cx="126.41" cy="27.73" r="1.35"/><circle cx="127.87" cy="28" r="1.35"/><circle cx="127.08" cy="30.01" r="1.35"/><circle cx="130.52" cy="29.55" r="1.35"/><circle cx="128.1" cy="27.68" r="1.35"/><circle cx="130.98" cy="29.55" r="1.35"/><circle cx="130.23" cy="28.84" r="1.35"/><circle cx="130.48" cy="28.41" r="1.35"/><circle cx="132.1" cy="27.61" r="1.35"/><circle cx="134.7" cy="28.87" r="1.35"/><circle cx="133.1" cy="27.42" r="1.35"/><circle cx="133.59" cy="28.36" r="1.35"/><circle cx="134.07" cy="29.12" r="1.35"/><circle cx="135.51" cy="27.97" r="1.35"/><circle cx="134.42" cy="27.83" r="1.35"/><circle cx="136.15" cy="27.47" r="1.35"/><circle cx="137.19" cy="28.28" r="1.35"/><circle cx="138.9" cy="29.3" r="1.35"/><circle cx="138.87" cy="27.45" r="1.35"/><circle cx="140.83" cy="26.98" r="1.35"/><circle cx="140.88" cy="27.5" r="1.35"/><circle cx="142.91" cy="27.09" r="1.35"/><circle cx="140.01" cy="27.33" r="1.35"/><circle cx="140.27" cy="28.85" r="1.35"/><circle cx="143.05" cy="27.98" r="1.35"/><circle cx="143.15" cy="27.5" r="1.35"/><circle cx="143.89" cy="27.25" r="1.35"/><circle cx="146.79" cy="27.43" r="1.35"/><circle cx="146.22" cy="28.8" r="1.35"/><circle cx="146.51" cy="27.29" r="1.35"/><circle cx="146.51" cy="28.75" r="1.35"/><circle cx="147.82" cy="27.53" r="1.35"/><circle cx="147.16" cy="27.55" r="1.35"/><circle cx="149.8" cy="28.86" r="1.35"/><circle cx="148.17" cy="27.56" r="1.35"/><circle cx="148.14" cy="28.07" r="1.35"/><circle cx="150.31" cy="26.78" r="1.35"/><circle cx="150.33" cy="27.82" r="1.35"/><circle cx="151.95" cy="29.14" r="1.35"/><circle cx="154.55" cy="28.64" r="1.35"/><circle cx="153.51" cy="27.81" r="1.35"/><circle cx="152.96" cy="26.75" r="1.35"/><circle cx="153.3" cy="27.32" r="1.35"/><circle cx="153.77" cy="27.09" r="1.35"/><circle cx="154.2" cy="29.34" r="1.35"/><circle cx="156.34" cy="27.66" r="1.35"/><circle cx="157.51" cy="28.98" r="1.35"/><circle cx="157.44" cy="27.68" r="1.35"/><circle cx="159.77" cy="27.03" r="1.35"/><circle cx="158.09" cy="27.22" r="1.35"/><circle cx="157.2" cy="26.95" r="1.35"/><circle cx="161.79" cy="28.66" r="1.35"/><circle cx="161.62" cy="27.14" r="1.35"/><circle cx="160.84" cy="26.44" r="1.35"/><circle cx="162.22" cy="27.39" r="1.35"/><circle cx="163.76" cy="26.79" r="1.35"/><circle cx="163.8" cy="28.69" r="1.35"/><circle cx="164.48" cy="28.51" r="1.35"/><circle cx="164.4" cy="28.97" r="1.35"/><circle cx="165.35" cy="28.54" r="1.35"/><circle cx="167.93" cy="27.98" r="1.35"/><circle cx="167.63" cy="27.22" r="1.35"/><circle cx="165.48" cy="28.86" r="1.35"/><circle cx="169.66" cy="27.95" r="1.35"/><circle cx="167.89" cy="27.02" r="1.35"/><circle cx="169.42" cy="28.54" r="1.35"/><circle cx="170.06" cy="28.04" r="1.35"/><circle cx="170.09" cy="27.57" r="1.35"/><circle cx="170.47" cy="28.69" r="1.35"/><circle cx="173.02" cy="28.72" r="1.35"/><circle cx="173.17" cy="28.08" r="1.35"/><circle cx="171.09" cy="28.51" r="1.35"/><circle cx="174.24" cy="27.57" r="1.35"/><circle cx="174.01" cy="27.81" r="1.35"/><circle cx="173.05" cy="29.48" r="1.35"/><circle cx="177.44" cy="27.22" r="1.35"/><circle cx="176.24" cy="28.1" r="1.35"/><circle cx="175.51" cy="28.33" r="1.35"/><circle cx="177.77" cy="28.67" r="1.35"/><circle cx="178.59" cy="28.66" r="1.35"/><circle cx="177.42" cy="27.86" r="1.35"/><circle cx="180.65" cy="27.29" r="1.35"/><circle cx="179.84" cy="27.53" r="1.35"/><circle cx="181.73" cy="26.93" r="1.35"/><circle cx="182.04" cy="28.59" r="1.35"/><circle cx="183.82" cy="27.66" r="1.35"/><circle cx="181.15" cy="28.36" r="1.35"/><circle cx="183.24" cy="26.5" r="1.35"/><circle cx="183.6" cy="28.53" r="1.35"/><circle cx="184.58" cy="28.94" r="1.35"/><circle cx="186.29" cy="28.3" r="1.35"/><circle cx="186.39" cy="27.51" r="1.35"/><circle cx="186.68" cy="29.38" r="1.35"/><circle cx="188.94" cy="28.37" r="1.35"/><circle cx="187.16" cy="29.81" r="1.35"/><circle cx="187.53" cy="28.14" r="1.35"/><circle cx="190.3" cy="27" r="1.35"/><circle cx="189.08" cy="28.61" r="1.35"/><circle cx="189.35" cy="28.82" r="1.35"/><circle cx="193.94" cy="27.42" r="1.35"/><circle cx="192.06" cy="29.45" r="1.35"/><circle cx="192.46" cy="27.55" r="1.35"/><circle cx="194.61" cy="28.34" r="1.35"/><circle cx="194.6" cy="28.4" r="1.35"/><circle cx="193.6" cy="27.35" r="1.35"/><circle cx="195.39" cy="26.98" r="1.35"/><circle cx="195.17" cy="27.61" r="1.35"/><circle cx="195.53" cy="27.58" r="1.35"/><circle cx="198.62" cy="29.62" r="1.35"/><circle cx="197.44" cy="28.68" r="1.35"/><circle cx="197.97" cy="28.25" r="1.35"/><circle cx="201.51" cy="27.78" r="1.35"/><circle cx="201.93" cy="29.34" r="1.35"/><circle cx="199.37" cy="29.38" r="1.35"/><circle cx="202.59" cy="28.14" r="1.35"/><circle cx="203.96" cy="27.07" r="1.35"/><circle cx="202.32" cy="28.01" r="1.35"/><circle cx="204.1" cy="26.69" r="1.35"/><circle cx="204.65" cy="28.76" r="1.35"/><circle cx="204.29" cy="26.95" r="1.35"/><circle cx="207.06" cy="26.96" r="1.35"/><circle cx="206.49" cy="29.13" r="1.35"/><circle cx="205" cy="28.54" r="1.35"/><circle cx="208.6" cy="27.07" r="1.35"/><circle cx="209.49" cy="27.56" r="1.35"/><circle cx="209.74" cy="27.29" r="1.35"/><circle cx="210.66" cy="28.17" r="1.35"/><circle cx="209.52" cy="28.68" r="1.35"/><circle cx="210.29" cy="26.61" r="1.35"/><circle cx="212.3" cy="27.96" r="1.35"/><circle cx="212.98" cy="27.65" r="1.35"/><circle cx="211.29" cy="28.17" r="1.35"/><circle cx="214.44" cy="28.87" r="1.35"/><circle cx="215.68" cy="27.75" r="1.35"/><circle cx="213.99" cy="26.66" r="1.35"/><circle cx="217.71" cy="27.47" r="1.35"/><circle cx="215.72" cy="27.5" r="1.35"/><circle cx="215.54" cy="26.63" r="1.35"/><circle cx="217.61" cy="28.3" r="1.35"/><circle cx="219.7" cy="28.92" r="1.35"/><circle cx="218.59" cy="29.37" r="1.35"/><circle cx="221.16" cy="28.33" r="1.35"/><circle cx="220.89" cy="27.22" r="1.35"/><circle cx="221.56" cy="28.2" r="1.35"/><circle cx="222.5" cy="28.96" r="1.35"/><circle cx="223.55" cy="28.02" r="1.35"/><circle cx="221.17" cy="26.81" r="1.35"/><circle cx="223.62" cy="28.17" r="1.35"/><circle cx="223.52" cy="29.33" r="1.35"/><circle cx="224.45" cy="29.7" r="1.35"/><circle cx="226.79" cy="27.9" r="1.35"/><circle cx="226.33" cy="27.66" r="1.35"/><circle cx="227.36" cy="29.2" r="1.35"/><circle cx="228.5" cy="28.44" r="1.35"/><circle cx="228.22" cy="28.18" r="1.35"/><circle cx="229.27" cy="27.82" r="1.35"/><circle cx="230.43" cy="27.24" r="1.35"/><circle cx="231.59" cy="28.08" r="1.35"/><circle cx="230.48" cy="28.33" r="1.35"/><circle cx="233.03" cy="28.05" r="1.35"/><circle cx="231.97" cy="28.85" r="1.35"/><circle cx="233.77" cy="28.52" r="1.35"/><circle cx="233.75" cy="27.94" r="1.35"/><circle cx="234.69" cy="27.59" r="1.35"/><circle cx="233.33" cy="28.43" r="1.35"/><circle cx="236.1" cy="28.58" r="1.35"/><circle cx="236.82" cy="28.12" r="1.35"/><circle cx="235.5" cy="28.18" r="1.35"/><circle cx="237.83" cy="29.18" r="1.35"/><circle cx="239.82" cy="28.51" r="1.35"/><circle cx="239.84" cy="29.04" r="1.35"/><circle cx="241" cy="27.33" r="1.35"/><circle cx="239.78" cy="29.23" r="1.35"/><circle cx="240.03" cy="28.95" r="1.35"/><circle cx="243.29" cy="29.28" r="1.35"/><circle cx="243" cy="29.72" r="1.35"/><circle cx="242.53" cy="29.44" r="1.35"/><circle cx="243.89" cy="29.01" r="1.35"/><circle cx="245.7" cy="29.43" r="1.35"/><circle cx="243.09" cy="29.75" r="1.35"/><circle cx="245.13" cy="28.81" r="1.35"/><circle cx="247.24" cy="28.32" r="1.35"/><circle cx="245.61" cy="27.33" r="1.35"/><circle cx="249.44" cy="28.05" r="1.35"/><circle cx="247.78" cy="26.99" r="1.35"/><circle cx="247.24" cy="28.73" r="1.35"/><circle cx="249.79" cy="28.54" r="1.35"/><circle cx="249.01" cy="28.3" r="1.35"/><circle cx="251.1" cy="29.43" r="1.35"/><circle cx="252.34" cy="27.17" r="1.35"/><circle cx="251.98" cy="27.54" r="1.35"/><circle cx="252.36" cy="28.74" r="1.35"/><circle cx="255" cy="29.86" r="1.35"/><circle cx="253.29" cy="29.52" r="1.35"/><circle cx="254.77" cy="29.08" r="1.35"/><circle cx="256.56" cy="27.74" r="1.35"/><circle cx="255.93" cy="28.58" r="1.35"/><circle cx="257.38" cy="29.56" r="1.35"/><circle cx="257.68" cy="27.82" r="1.35"/><circle cx="257.89" cy="27.81" r="1.35"/><circle cx="257.2" cy="29.03" r="1.35"/><circle cx="261.61" cy="26.89" r="1.35"/><circle cx="259.14" cy="26.36" r="1.35"/><circle cx="259.91" cy="26.98" r="1.35"/><circle cx="261.34" cy="27.61" r="1.35"/><circle cx="261.71" cy="27.53" r="1.35"/><circle cx="262.17" cy="28.94" r="1.35"/><circle cx="263.02" cy="26.92" r="1.35"/><circle cx="265.03" cy="29.33" r="1.35"/><circle cx="264.27" cy="27.02" r="1.35"/><circle cx="265.91" cy="27.95" r="1.35"/><circle cx="266.24" cy="27.13" r="1.35"/><circle cx="264.29" cy="28.7" r="1.35"/><circle cx="267.75" cy="28.24" r="1.35"/><circle cx="266.72" cy="27.23" r="1.35"/><circle cx="266.29" cy="28.39" r="1.35"/><circle cx="269.09" cy="27.12" r="1.35"/><circle cx="269.18" cy="27.12" r="1.35"/><circle cx="269.17" cy="26.89" r="1.35"/><circle cx="271.43" cy="28.56" r="1.35"/><circle cx="271.68" cy="28.29" r="1.35"/><circle cx="271.42" cy="27.99" r="1.35"/><circle cx="274.94" cy="28" r="1.35"/><circle cx="274.33" cy="29.55" r="1.35"/><circle cx="272.37" cy="27.49" r="1.35"/><circle cx="276.07" cy="29.76" r="1.35"/><circle cx="275.49" cy="28.5" r="1.35"/><circle cx="275.54" cy="28.5" r="1.35"/><circle cx="276.26" cy="29.41" r="1.35"/><circle cx="276.73" cy="27.77" r="1.35"/><circle cx="278.81" cy="29.57" r="1.35"/><circle cx="278" cy="27.12" r="1.35"/><circle cx="280.45" cy="27.35" r="1.35"/><circle cx="278.44" cy="28.44" r="1.35"/><circle cx="282.74" cy="27.71" r="1.35"/><circle cx="280.35" cy="28.65" r="1.35"/><circle cx="280.17" cy="29" r="1.35"/><circle cx="282.32" cy="27.44" r="1.35"/><circle cx="283.2" cy="26.81" r="1.35"/><circle cx="283.96" cy="28.3" r="1.35"/><circle cx="284.98" cy="28.82" r="1.35"/><circle cx="284.95" cy="28.97" r="1.35"/><circle cx="285.22" cy="27.81" r="1.35"/><circle cx="286.51" cy="29.15" r="1.35"/><circle cx="287.44" cy="27.19" r="1.35"/><circle cx="287.55" cy="28.44" r="1.35"/><circle cx="289.61" cy="27.74" r="1.35"/><circle cx="288.22" cy="29.23" r="1.35"/><circle cx="288.7" cy="28.44" r="1.35"/><circle cx="292.52" cy="27.45" r="1.35"/><circle cx="292.63" cy="26.63" r="1.35"/><circle cx="290.16" cy="26.26" r="1.35"/><circle cx="293.65" cy="27.38" r="1.35"/><circle cx="294.67" cy="29.53" r="1.35"/><circle cx="292.26" cy="29.5" r="1.35"/><circle cx="296.67" cy="29.08" r="1.35"/><circle cx="294.98" cy="27.46" r="1.35"/><circle cx="296.94" cy="28.21" r="1.35"/><circle cx="297.76" cy="29.57" r="1.35"/><circle cx="298.54" cy="29.81" r="1.35"/><circle cx="297.57" cy="28.96" r="1.35"/><circle cx="299" cy="28.39" r="1.35"/><circle cx="298.72" cy="27.68" r="1.35"/><circle cx="299.61" cy="27.41" r="1.35"/><circle cx="301.78" cy="28.13" r="1.35"/><circle cx="302.88" cy="29.01" r="1.35"/><circle cx="300.65" cy="28.94" r="1.35"/><circle cx="304.48" cy="28.27" r="1.35"/><circle cx="304.67" cy="29.02" r="1.35"/><circle cx="304.23" cy="28.25" r="1.35"/><circle cx="305.33" cy="27.59" r="1.35"/><circle cx="304.61" cy="26.98" r="1.35"/><circle cx="304.4" cy="28.19" r="1.35"/><circle cx="306.87" cy="27.91" r="1.35"/><circle cx="308.44" cy="27.66" r="1.35"/><circle cx="306" cy="27.62" r="1.35"/></g>
<text x="370" y="28" class="ttl">Metastatic CRC vs Non-Metastatic CRC, Padj&lt;0.05</text>
<rect x="461.8" y="51.5" width="60.4" height="206" fill="#bdbdbd"/>
<path d="M461.6 208 L465 207 L470 208.5 L475 209 L480 210 L483 211 L484 214 L485.5 228 L487.5 245 L489 256.5 L461.6 256.5 Z" fill="#1190c0"/><path d="M496 256.5 L496.8 249 L498 238 L500.5 222 L503 214 L506 213 L510 212 L516 211 L521.5 210 L521.5 256.5 Z" fill="#c81f26"/><path d="M461.6 212 L460 214 L459.5 235 L460 254 L461.6 255 Z" fill="#1eaee0"/><path d="M522 206 L528 209 L533 215 L535 225 L533 233 L528 238 L522 241 Z" fill="#e8262b"/><g fill="#606060"><circle cx="449.2" cy="259.3" r="1.15"/><circle cx="458.1" cy="258.9" r="1.15"/><circle cx="524" cy="260" r="1.15"/><circle cx="527" cy="258.5" r="1.15"/><circle cx="463" cy="260.5" r="1.15"/><circle cx="495.24" cy="270.3" r="1.15"/><circle cx="477.28" cy="265.26" r="1.15"/><circle cx="480.6" cy="271.12" r="1.15"/><circle cx="487.22" cy="262.61" r="1.15"/><circle cx="498.18" cy="268.12" r="1.15"/><circle cx="509.41" cy="262.34" r="1.15"/><circle cx="479.42" cy="272.08" r="1.15"/><circle cx="491.4" cy="266.64" r="1.15"/><circle cx="491.02" cy="262.59" r="1.15"/><circle cx="499.86" cy="261.98" r="1.15"/><circle cx="509.69" cy="266.2" r="1.15"/><circle cx="505.64" cy="272.57" r="1.15"/><circle cx="506.11" cy="263.05" r="1.15"/><circle cx="499.62" cy="266.91" r="1.15"/><circle cx="481.2" cy="272.96" r="1.15"/><circle cx="488.56" cy="264.01" r="1.15"/><circle cx="482.55" cy="267.01" r="1.15"/><circle cx="484.86" cy="272.81" r="1.15"/><circle cx="477.52" cy="262.7" r="1.15"/><circle cx="502.52" cy="263.04" r="1.15"/><circle cx="476.8" cy="259.36" r="1.15"/><circle cx="496.86" cy="266.89" r="1.15"/><circle cx="484.34" cy="268.43" r="1.15"/><circle cx="499.71" cy="269.62" r="1.15"/><circle cx="480.26" cy="269.01" r="1.15"/><circle cx="473.24" cy="264.1" r="1.15"/><circle cx="505.8" cy="270.47" r="1.15"/><circle cx="478.73" cy="271.11" r="1.15"/><circle cx="494.02" cy="262.44" r="1.15"/><circle cx="477.62" cy="265.08" r="1.15"/><circle cx="486.18" cy="269.24" r="1.15"/><circle cx="477.9" cy="264.68" r="1.15"/><circle cx="478.63" cy="265.6" r="1.15"/><circle cx="493.07" cy="259.41" r="1.15"/><circle cx="504.58" cy="261.69" r="1.15"/><circle cx="488.68" cy="261.1" r="1.15"/><circle cx="479.09" cy="259.12" r="1.15"/><circle cx="494.83" cy="263.85" r="1.15"/><circle cx="506.53" cy="263.97" r="1.15"/><circle cx="508.9" cy="259.55" r="1.15"/><circle cx="514.16" cy="260.06" r="1.15"/><circle cx="488.9" cy="264.94" r="1.15"/><circle cx="505.74" cy="266.3" r="1.15"/><circle cx="490.16" cy="272.33" r="1.15"/><circle cx="475.9" cy="258.84" r="1.15"/><circle cx="499.78" cy="269.74" r="1.15"/><circle cx="480.88" cy="267.94" r="1.15"/><circle cx="474.43" cy="265.04" r="1.15"/><circle cx="483.19" cy="259.61" r="1.15"/><circle cx="496.36" cy="272.38" r="1.15"/><circle cx="478.77" cy="270.25" r="1.15"/><circle cx="475.23" cy="263.34" r="1.15"/><circle cx="475.35" cy="261.27" r="1.15"/><circle cx="487.66" cy="271.52" r="1.15"/><circle cx="498.56" cy="264.4" r="1.15"/><circle cx="505.53" cy="270.94" r="1.15"/><circle cx="492.54" cy="265.61" r="1.15"/><circle cx="489.47" cy="271.25" r="1.15"/><circle cx="502.89" cy="261.76" r="1.15"/><circle cx="486.66" cy="261.24" r="1.15"/><circle cx="491.56" cy="263.53" r="1.15"/><circle cx="489.57" cy="262.54" r="1.15"/><circle cx="474.4" cy="263.84" r="1.15"/><circle cx="479.1" cy="270.04" r="1.15"/><circle cx="494.33" cy="264.99" r="1.15"/><circle cx="481.04" cy="263.11" r="1.15"/><circle cx="486.49" cy="259.5" r="1.15"/><circle cx="491.81" cy="261.96" r="1.15"/><circle cx="503.66" cy="260.91" r="1.15"/><circle cx="473.17" cy="264.38" r="1.15"/><circle cx="511.7" cy="263.21" r="1.15"/><circle cx="496.98" cy="258.82" r="1.15"/><circle cx="488.86" cy="272.28" r="1.15"/><circle cx="487.69" cy="266.08" r="1.15"/><circle cx="497.24" cy="261.78" r="1.15"/><circle cx="485.67" cy="265.94" r="1.15"/><circle cx="493.13" cy="264.53" r="1.15"/><circle cx="477.86" cy="268.63" r="1.15"/><circle cx="480.84" cy="259.45" r="1.15"/><circle cx="505.5" cy="261.39" r="1.15"/><circle cx="507.17" cy="263.48" r="1.15"/><circle cx="483.66" cy="263.15" r="1.15"/><circle cx="478.12" cy="267.4" r="1.15"/><circle cx="501.27" cy="272.71" r="1.15"/><circle cx="484.68" cy="262.14" r="1.15"/><circle cx="501.44" cy="269.76" r="1.15"/><circle cx="476.71" cy="266.79" r="1.15"/><circle cx="477.81" cy="268.8" r="1.15"/><circle cx="494.38" cy="266.5" r="1.15"/><circle cx="496.39" cy="271.67" r="1.15"/><circle cx="513.28" cy="258.9" r="1.15"/><circle cx="495.12" cy="268.62" r="1.15"/><circle cx="503.87" cy="258.82" r="1.15"/><circle cx="499.85" cy="263.37" r="1.15"/><circle cx="503.53" cy="272.7" r="1.15"/><circle cx="505.79" cy="259.29" r="1.15"/><circle cx="502.67" cy="263.69" r="1.15"/><circle cx="490.31" cy="262.81" r="1.15"/><circle cx="477.03" cy="263.64" r="1.15"/><circle cx="502.59" cy="262.03" r="1.15"/><circle cx="474.33" cy="259.26" r="1.15"/><circle cx="497.59" cy="270.02" r="1.15"/><circle cx="477.83" cy="265.3" r="1.15"/><circle cx="483.64" cy="259.69" r="1.15"/><circle cx="494.14" cy="272.15" r="1.15"/><circle cx="484.36" cy="271.58" r="1.15"/><circle cx="493.99" cy="263.32" r="1.15"/><circle cx="481.02" cy="270.11" r="1.15"/><circle cx="491.68" cy="270.71" r="1.15"/><circle cx="489.25" cy="258.96" r="1.15"/><circle cx="499.79" cy="262.8" r="1.15"/><circle cx="492.32" cy="271.69" r="1.15"/><circle cx="488.64" cy="267.56" r="1.15"/><circle cx="479.82" cy="269.06" r="1.15"/><circle cx="481.47" cy="268.44" r="1.15"/><circle cx="481.47" cy="265.89" r="1.15"/><circle cx="478.23" cy="262.38" r="1.15"/><circle cx="496.37" cy="262.42" r="1.15"/><circle cx="488.2" cy="264.87" r="1.15"/><circle cx="505.27" cy="265.7" r="1.15"/><circle cx="496.04" cy="262.54" r="1.15"/><circle cx="511.49" cy="264.28" r="1.15"/><circle cx="500.96" cy="262.13" r="1.15"/><circle cx="481.83" cy="260.94" r="1.15"/><circle cx="495" cy="268.24" r="1.15"/><circle cx="473.22" cy="261.23" r="1.15"/><circle cx="488.72" cy="269.86" r="1.15"/><circle cx="490.23" cy="268.01" r="1.15"/><circle cx="494.66" cy="266.39" r="1.15"/><circle cx="503.43" cy="272.55" r="1.15"/><circle cx="491.97" cy="263.91" r="1.15"/><circle cx="503.82" cy="260.92" r="1.15"/><circle cx="483.43" cy="259.53" r="1.15"/><circle cx="478.43" cy="270.25" r="1.15"/><circle cx="494.83" cy="267.71" r="1.15"/><circle cx="486.18" cy="265.35" r="1.15"/><circle cx="513.29" cy="260.02" r="1.15"/><circle cx="502.43" cy="268.82" r="1.15"/><circle cx="505.83" cy="259.49" r="1.15"/><circle cx="478.98" cy="260.77" r="1.15"/><circle cx="496.7" cy="265.1" r="1.15"/><circle cx="504.84" cy="259.71" r="1.15"/><circle cx="507.32" cy="265.83" r="1.15"/><circle cx="497.83" cy="271.61" r="1.15"/><circle cx="511.48" cy="262.62" r="1.15"/><circle cx="485.46" cy="268.04" r="1.15"/><circle cx="499.3" cy="270.43" r="1.15"/><circle cx="481.44" cy="261.32" r="1.15"/><circle cx="494.28" cy="258.89" r="1.15"/><circle cx="483.33" cy="261.19" r="1.15"/><circle cx="476.17" cy="261.18" r="1.15"/><circle cx="483.54" cy="264.34" r="1.15"/><circle cx="482.78" cy="261.58" r="1.15"/><circle cx="507.02" cy="264.71" r="1.15"/><circle cx="509.03" cy="260.11" r="1.15"/><circle cx="495.79" cy="270.38" r="1.15"/><circle cx="501.4" cy="265.23" r="1.15"/><circle cx="498.62" cy="265.09" r="1.15"/><circle cx="500.28" cy="271.53" r="1.15"/><circle cx="472.81" cy="261.26" r="1.15"/></g><g fill="#1eaee0"><circle cx="429.8" cy="50.7" r="1.4"/><circle cx="392.7" cy="115.8" r="1.4"/><circle cx="461.6" cy="142.6" r="1.4"/><circle cx="461.6" cy="148" r="1.4"/><circle cx="438.5" cy="163" r="1.4"/><circle cx="439.8" cy="167.2" r="1.4"/><circle cx="441.1" cy="172.5" r="1.4"/><circle cx="448.4" cy="169.5" r="1.4"/><circle cx="451.8" cy="167.6" r="1.4"/><circle cx="454.1" cy="164.9" r="1.4"/><circle cx="456.4" cy="163" r="1.4"/><circle cx="448.4" cy="174.4" r="1.4"/><circle cx="453.2" cy="174.8" r="1.4"/><circle cx="457.2" cy="178.3" r="1.4"/><circle cx="458.3" cy="179.6" r="1.4"/><circle cx="449" cy="185.5" r="1.4"/><circle cx="408.3" cy="189.1" r="1.4"/><circle cx="409.8" cy="192.4" r="1.4"/><circle cx="415.9" cy="194.3" r="1.4"/><circle cx="420.9" cy="192.4" r="1.4"/><circle cx="421.7" cy="191.6" r="1.4"/><circle cx="448.8" cy="191" r="1.4"/><circle cx="450.3" cy="194.9" r="1.4"/><circle cx="441.9" cy="196.2" r="1.4"/><circle cx="441.3" cy="201.2" r="1.4"/><circle cx="431.8" cy="199.6" r="1.4"/><circle cx="434.3" cy="199.6" r="1.4"/><circle cx="411" cy="199.3" r="1.4"/><circle cx="449.5" cy="198.7" r="1.4"/><circle cx="455.6" cy="198.7" r="1.4"/><circle cx="457.6" cy="200" r="1.4"/><circle cx="458.5" cy="201.6" r="1.4"/><circle cx="422.8" cy="205.4" r="1.4"/><circle cx="445.7" cy="206.9" r="1.4"/><circle cx="456" cy="205.8" r="1.4"/><circle cx="460.4" cy="193" r="1.4"/><circle cx="456.2" cy="162.7" r="1.4"/><circle cx="456.9" cy="177.8" r="1.4"/><circle cx="458.6" cy="179.5" r="1.4"/><circle cx="460.3" cy="191.5" r="1.4"/><circle cx="422.5" cy="204.9" r="1.4"/><circle cx="410.3" cy="219.8" r="1.4"/><circle cx="410.3" cy="221.3" r="1.4"/><circle cx="424.5" cy="214.8" r="1.4"/><circle cx="428.9" cy="217.4" r="1.4"/><circle cx="433" cy="215.4" r="1.4"/><circle cx="431.4" cy="223.3" r="1.4"/><circle cx="431.8" cy="225.3" r="1.4"/><circle cx="435.6" cy="229.6" r="1.4"/><circle cx="419.2" cy="234.2" r="1.4"/><circle cx="440.3" cy="225.7" r="1.4"/><circle cx="440.9" cy="219.8" r="1.4"/><circle cx="444.3" cy="216.8" r="1.4"/><circle cx="445.3" cy="210.9" r="1.4"/><circle cx="445.8" cy="206.9" r="1.4"/><circle cx="447.2" cy="220.8" r="1.4"/><circle cx="448.2" cy="225.7" r="1.4"/><circle cx="448.6" cy="214.2" r="1.4"/><circle cx="450.2" cy="215.8" r="1.4"/><circle cx="451.2" cy="219.8" r="1.4"/><circle cx="452.2" cy="212.8" r="1.4"/><circle cx="450.2" cy="229.6" r="1.4"/><circle cx="446.3" cy="229.6" r="1.4"/><circle cx="445.3" cy="235.6" r="1.4"/><circle cx="441.3" cy="238.5" r="1.4"/><circle cx="445.3" cy="240.5" r="1.4"/><circle cx="446.3" cy="242.5" r="1.4"/><circle cx="442.3" cy="246.4" r="1.4"/><circle cx="442.7" cy="247.8" r="1.4"/><circle cx="447.2" cy="247.4" r="1.4"/><circle cx="447.8" cy="251.4" r="1.4"/><circle cx="452.2" cy="248.4" r="1.4"/><circle cx="455.2" cy="248.4" r="1.4"/><circle cx="456.5" cy="252.4" r="1.4"/><circle cx="453.1" cy="234.6" r="1.4"/><circle cx="455.2" cy="231.6" r="1.4"/><circle cx="456.1" cy="227.7" r="1.4"/><circle cx="454.2" cy="238.5" r="1.4"/><circle cx="457.1" cy="241.5" r="1.4"/><circle cx="459.98" cy="238.3" r="1.4"/><circle cx="447.25" cy="220.9" r="1.4"/><circle cx="457.42" cy="231.25" r="1.4"/><circle cx="455.03" cy="223.65" r="1.4"/><circle cx="453" cy="240.17" r="1.4"/><circle cx="461.59" cy="243.37" r="1.4"/><circle cx="460.32" cy="235.62" r="1.4"/><circle cx="461.44" cy="242.16" r="1.4"/><circle cx="461.35" cy="205.67" r="1.4"/><circle cx="455.53" cy="213.36" r="1.4"/><circle cx="459.66" cy="216.3" r="1.4"/><circle cx="459.68" cy="251" r="1.4"/><circle cx="454.81" cy="254.26" r="1.4"/><circle cx="459.39" cy="233.1" r="1.4"/><circle cx="453.05" cy="245.9" r="1.4"/><circle cx="461.34" cy="207.04" r="1.4"/><circle cx="453.32" cy="205.39" r="1.4"/><circle cx="455.78" cy="252.3" r="1.4"/><circle cx="457.97" cy="211.96" r="1.4"/><circle cx="455.88" cy="229.26" r="1.4"/><circle cx="460" cy="253.1" r="1.4"/><circle cx="460.26" cy="225.3" r="1.4"/><circle cx="453.62" cy="222.38" r="1.4"/><circle cx="460.24" cy="218.14" r="1.4"/><circle cx="457.28" cy="218.03" r="1.4"/><circle cx="455.23" cy="240.98" r="1.4"/><circle cx="461.31" cy="215.99" r="1.4"/><circle cx="460.63" cy="205.27" r="1.4"/><circle cx="456.03" cy="223.67" r="1.4"/><circle cx="453.23" cy="250.57" r="1.4"/><circle cx="461.58" cy="255.4" r="1.4"/><circle cx="459.68" cy="253.06" r="1.4"/><circle cx="449.93" cy="225.76" r="1.4"/><circle cx="455.79" cy="228.31" r="1.4"/><circle cx="457.18" cy="230.74" r="1.4"/><circle cx="460.85" cy="252.68" r="1.4"/><circle cx="460.45" cy="254.88" r="1.4"/><circle cx="454.95" cy="246.28" r="1.4"/><circle cx="459.24" cy="236.09" r="1.4"/><circle cx="459.8" cy="227.15" r="1.4"/><circle cx="461.04" cy="230.99" r="1.4"/><circle cx="459.72" cy="209.59" r="1.4"/><circle cx="453.26" cy="227.14" r="1.4"/><circle cx="458.47" cy="216.89" r="1.4"/><circle cx="456.16" cy="244.23" r="1.4"/><circle cx="458.51" cy="231.13" r="1.4"/><circle cx="446.78" cy="241.92" r="1.4"/><circle cx="461.38" cy="215.64" r="1.4"/><circle cx="452.03" cy="244.57" r="1.4"/><circle cx="453.28" cy="236.12" r="1.4"/><circle cx="458.57" cy="239.31" r="1.4"/><circle cx="457.9" cy="232.94" r="1.4"/><circle cx="454.47" cy="242.93" r="1.4"/><circle cx="456.97" cy="213.06" r="1.4"/><circle cx="461.49" cy="251.53" r="1.4"/><circle cx="444.85" cy="249.58" r="1.4"/><circle cx="459.54" cy="217.36" r="1.4"/><circle cx="461.08" cy="225.54" r="1.4"/><circle cx="459.61" cy="231.71" r="1.4"/><circle cx="459.65" cy="206.84" r="1.4"/><circle cx="453.89" cy="232.18" r="1.4"/><circle cx="456.94" cy="236.45" r="1.4"/><circle cx="456.81" cy="214.16" r="1.4"/><circle cx="456.7" cy="221.22" r="1.4"/><circle cx="461.23" cy="206.94" r="1.4"/><circle cx="450.15" cy="209.35" r="1.4"/><circle cx="458.55" cy="243.74" r="1.4"/><circle cx="453.78" cy="214.3" r="1.4"/><circle cx="457.48" cy="245.92" r="1.4"/><circle cx="459.48" cy="222.55" r="1.4"/><circle cx="434.21" cy="215.52" r="1.4"/><circle cx="422.01" cy="228.92" r="1.4"/><circle cx="460.72" cy="221.66" r="1.4"/><circle cx="425.58" cy="218.16" r="1.4"/><circle cx="434.84" cy="200.71" r="1.4"/><circle cx="442.91" cy="200.98" r="1.4"/><circle cx="444.65" cy="237.12" r="1.4"/><circle cx="454.36" cy="213.93" r="1.4"/><circle cx="460.58" cy="208.8" r="1.4"/><circle cx="455.32" cy="235.73" r="1.4"/><circle cx="449.74" cy="239.5" r="1.4"/><circle cx="454.91" cy="237.64" r="1.4"/><circle cx="459.78" cy="217.47" r="1.4"/><circle cx="452.9" cy="239.56" r="1.4"/><circle cx="456.26" cy="238.56" r="1.4"/><circle cx="455.65" cy="230.16" r="1.4"/><circle cx="428.51" cy="250.8" r="1.4"/><circle cx="443.02" cy="222.28" r="1.4"/><circle cx="457.14" cy="215.06" r="1.4"/><circle cx="448.71" cy="219.98" r="1.4"/><circle cx="430.47" cy="210.9" r="1.4"/><circle cx="448.05" cy="217.7" r="1.4"/><circle cx="451.51" cy="219.74" r="1.4"/><circle cx="450.23" cy="219.25" r="1.4"/><circle cx="454.61" cy="243.82" r="1.4"/><circle cx="442.21" cy="228.43" r="1.4"/><circle cx="450.97" cy="206.6" r="1.4"/><circle cx="443.98" cy="241.54" r="1.4"/><circle cx="452.07" cy="197.33" r="1.4"/><circle cx="452.75" cy="226.94" r="1.4"/><circle cx="441.68" cy="253.98" r="1.4"/><circle cx="455.93" cy="235.07" r="1.4"/><circle cx="459.65" cy="228.81" r="1.4"/><circle cx="456.11" cy="243.28" r="1.4"/><circle cx="455.89" cy="240.22" r="1.4"/><circle cx="458.27" cy="249.94" r="1.4"/><circle cx="442.05" cy="204.63" r="1.4"/><circle cx="450.09" cy="240.75" r="1.4"/><circle cx="454.48" cy="209.23" r="1.4"/><circle cx="451.93" cy="241.92" r="1.4"/><circle cx="434.63" cy="219.66" r="1.4"/><circle cx="457.93" cy="216.27" r="1.4"/><circle cx="438.17" cy="225.62" r="1.4"/><circle cx="456.87" cy="228.24" r="1.4"/><circle cx="457.04" cy="250.9" r="1.4"/><circle cx="454.52" cy="205.74" r="1.4"/><circle cx="457.33" cy="206.1" r="1.4"/><circle cx="458.86" cy="205.84" r="1.4"/><circle cx="459.78" cy="207.45" r="1.4"/><circle cx="457.04" cy="201.81" r="1.4"/><circle cx="457.81" cy="205.43" r="1.4"/><circle cx="454.64" cy="200.47" r="1.4"/><circle cx="451.61" cy="204.64" r="1.4"/><circle cx="460.9" cy="199.88" r="1.4"/><circle cx="451.84" cy="197.66" r="1.4"/><circle cx="454.67" cy="198.8" r="1.4"/><circle cx="460.67" cy="195.77" r="1.4"/><circle cx="453.39" cy="196.49" r="1.4"/><circle cx="457.13" cy="205.09" r="1.4"/><circle cx="451.97" cy="195.81" r="1.4"/><circle cx="455.05" cy="202.59" r="1.4"/><circle cx="460" cy="195.47" r="1.4"/><circle cx="451.2" cy="197.4" r="1.4"/><circle cx="452.39" cy="198.06" r="1.4"/><circle cx="457.89" cy="202.73" r="1.4"/><circle cx="452.46" cy="197.4" r="1.4"/><circle cx="453.09" cy="197.24" r="1.4"/><circle cx="458.33" cy="199.05" r="1.4"/><circle cx="456.03" cy="205.62" r="1.4"/><circle cx="455.27" cy="198.39" r="1.4"/><circle cx="459.76" cy="206.89" r="1.4"/><circle cx="453.76" cy="202.12" r="1.4"/><circle cx="460.53" cy="201.27" r="1.4"/><circle cx="452.43" cy="195.65" r="1.4"/><circle cx="460.42" cy="205.42" r="1.4"/></g><g fill="#1190c0"><circle cx="473.4" cy="152.4" r="1.4"/><circle cx="467" cy="164.4" r="1.4"/><circle cx="472.2" cy="164.9" r="1.4"/><circle cx="465" cy="177.8" r="1.4"/><circle cx="465.8" cy="181.9" r="1.4"/><circle cx="468.4" cy="181.2" r="1.4"/><circle cx="469.4" cy="186" r="1.4"/><circle cx="473.7" cy="186.7" r="1.4"/><circle cx="474.1" cy="189.1" r="1.4"/><circle cx="465.8" cy="190.3" r="1.4"/><circle cx="469.8" cy="193.1" r="1.4"/><circle cx="473.7" cy="194.6" r="1.4"/><circle cx="476.5" cy="197.9" r="1.4"/><circle cx="478.9" cy="199.8" r="1.4"/><circle cx="482.5" cy="199.4" r="1.4"/><circle cx="471.8" cy="198.6" r="1.4"/><circle cx="464.6" cy="197.4" r="1.4"/><circle cx="472.4" cy="164.6" r="1.4"/><circle cx="472.23" cy="207.96" r="1.4"/><circle cx="482.37" cy="206.45" r="1.4"/><circle cx="473.42" cy="208.4" r="1.4"/><circle cx="466.47" cy="207.19" r="1.4"/><circle cx="476.04" cy="211.69" r="1.4"/><circle cx="464.52" cy="203.85" r="1.4"/><circle cx="464.45" cy="211.95" r="1.4"/><circle cx="477.41" cy="199.67" r="1.4"/><circle cx="483.62" cy="214.44" r="1.4"/><circle cx="476.56" cy="208.85" r="1.4"/><circle cx="465.89" cy="199.24" r="1.4"/><circle cx="473.86" cy="199.95" r="1.4"/><circle cx="466.59" cy="202.87" r="1.4"/><circle cx="463.15" cy="206.42" r="1.4"/><circle cx="471.97" cy="212.48" r="1.4"/><circle cx="473.66" cy="209.24" r="1.4"/><circle cx="473.25" cy="209.6" r="1.4"/><circle cx="472.33" cy="203.45" r="1.4"/><circle cx="483.95" cy="214.93" r="1.4"/><circle cx="480.56" cy="210.32" r="1.4"/><circle cx="469.28" cy="202.67" r="1.4"/><circle cx="468.71" cy="200.12" r="1.4"/><circle cx="478.98" cy="205.41" r="1.4"/><circle cx="480.7" cy="205.18" r="1.4"/><circle cx="483.1" cy="212.56" r="1.4"/><circle cx="462.51" cy="202.36" r="1.4"/><circle cx="482.07" cy="206.52" r="1.4"/><circle cx="483.58" cy="205.36" r="1.4"/><circle cx="464.07" cy="209.07" r="1.4"/><circle cx="479.24" cy="203.32" r="1.4"/><circle cx="464.37" cy="204.32" r="1.4"/><circle cx="483.23" cy="211.13" r="1.4"/><circle cx="465.04" cy="202.94" r="1.4"/><circle cx="464.67" cy="199.96" r="1.4"/><circle cx="479.64" cy="201.84" r="1.4"/><circle cx="474.52" cy="206.16" r="1.4"/><circle cx="466.6" cy="210.71" r="1.4"/><circle cx="465.32" cy="209.3" r="1.4"/><circle cx="465" cy="205.73" r="1.4"/><circle cx="467.08" cy="203.32" r="1.4"/><circle cx="489.61" cy="254.52" r="1.4"/><circle cx="487.69" cy="250.13" r="1.4"/><circle cx="482.01" cy="215.75" r="1.4"/><circle cx="488.38" cy="237.73" r="1.4"/><circle cx="483.9" cy="210.12" r="1.4"/><circle cx="484.14" cy="218.17" r="1.4"/><circle cx="487.38" cy="244.41" r="1.4"/><circle cx="483.77" cy="208.74" r="1.4"/><circle cx="482.22" cy="209.6" r="1.4"/><circle cx="486.19" cy="235.67" r="1.4"/><circle cx="482.1" cy="223.96" r="1.4"/><circle cx="486.68" cy="229.67" r="1.4"/><circle cx="486.96" cy="234.3" r="1.4"/><circle cx="482.89" cy="212.86" r="1.4"/><circle cx="489.2" cy="251.33" r="1.4"/><circle cx="482.88" cy="214.68" r="1.4"/><circle cx="488.36" cy="242.71" r="1.4"/><circle cx="488.83" cy="253.46" r="1.4"/><circle cx="487.64" cy="249.99" r="1.4"/><circle cx="482.34" cy="210.3" r="1.4"/><circle cx="483.5" cy="206.97" r="1.4"/><circle cx="487.17" cy="240.93" r="1.4"/><circle cx="484.91" cy="218.11" r="1.4"/><circle cx="483" cy="219.97" r="1.4"/><circle cx="483.53" cy="213.95" r="1.4"/><circle cx="483.54" cy="216.65" r="1.4"/><circle cx="487.33" cy="233.53" r="1.4"/><circle cx="483.03" cy="219.29" r="1.4"/><circle cx="488.95" cy="251.79" r="1.4"/><circle cx="484.49" cy="218.73" r="1.4"/><circle cx="486.23" cy="227.73" r="1.4"/><circle cx="485.26" cy="223.81" r="1.4"/><circle cx="487.2" cy="234.18" r="1.4"/><circle cx="489.54" cy="250.44" r="1.4"/><circle cx="488.32" cy="255.01" r="1.4"/><circle cx="484.99" cy="234.81" r="1.4"/><circle cx="483.58" cy="212.16" r="1.4"/><circle cx="488.89" cy="251.42" r="1.4"/><circle cx="487.59" cy="240.75" r="1.4"/><circle cx="486.83" cy="237.45" r="1.4"/><circle cx="485.66" cy="229.59" r="1.4"/><circle cx="488.43" cy="255.97" r="1.4"/><circle cx="481.02" cy="208.84" r="1.4"/><circle cx="488.21" cy="250.91" r="1.4"/><circle cx="486.99" cy="242.59" r="1.4"/><circle cx="486.83" cy="251.67" r="1.4"/><circle cx="483.84" cy="222.94" r="1.4"/><circle cx="486.19" cy="249.43" r="1.4"/><circle cx="485.93" cy="226.27" r="1.4"/><circle cx="484.12" cy="234.21" r="1.4"/><circle cx="485.64" cy="236.87" r="1.4"/><circle cx="487.76" cy="236.05" r="1.4"/><circle cx="480.5" cy="209.09" r="1.4"/><circle cx="485.7" cy="249.87" r="1.4"/><circle cx="486.05" cy="242.14" r="1.4"/><circle cx="487.76" cy="234.63" r="1.4"/><circle cx="485.76" cy="227.47" r="1.4"/><circle cx="487.27" cy="243.26" r="1.4"/><circle cx="481.47" cy="206.52" r="1.4"/><circle cx="483.18" cy="216.74" r="1.4"/><circle cx="485.67" cy="240.62" r="1.4"/><circle cx="488.94" cy="251.94" r="1.4"/><circle cx="485.19" cy="218.05" r="1.4"/><circle cx="487.26" cy="239.58" r="1.4"/><circle cx="485.06" cy="215.33" r="1.4"/><circle cx="489.34" cy="238.66" r="1.4"/><circle cx="486.34" cy="227.54" r="1.4"/><circle cx="486.43" cy="238.96" r="1.4"/><circle cx="481.8" cy="215.12" r="1.4"/><circle cx="489.78" cy="251.63" r="1.4"/><circle cx="487.44" cy="249.89" r="1.4"/><circle cx="485.67" cy="221.14" r="1.4"/><circle cx="481.04" cy="211.94" r="1.4"/><circle cx="488.45" cy="248.28" r="1.4"/><circle cx="488.34" cy="241.27" r="1.4"/><circle cx="483.27" cy="213.63" r="1.4"/><circle cx="485.44" cy="227.98" r="1.4"/><circle cx="486.13" cy="226.11" r="1.4"/><circle cx="485.77" cy="236.91" r="1.4"/><circle cx="488.37" cy="247.8" r="1.4"/></g><g fill="#c81f26"><circle cx="520.2" cy="163.4" r="1.4"/><circle cx="516.9" cy="166.3" r="1.4"/><circle cx="515.5" cy="178.3" r="1.4"/><circle cx="519" cy="181.1" r="1.4"/><circle cx="510.2" cy="181.9" r="1.4"/><circle cx="516.2" cy="185" r="1.4"/><circle cx="508.3" cy="190.7" r="1.4"/><circle cx="513.1" cy="193.8" r="1.4"/><circle cx="517.4" cy="192.2" r="1.4"/><circle cx="519" cy="194.5" r="1.4"/><circle cx="501.1" cy="193.8" r="1.4"/><circle cx="502.3" cy="195.5" r="1.4"/><circle cx="505.5" cy="197.5" r="1.4"/><circle cx="510.5" cy="198.6" r="1.4"/><circle cx="513" cy="199.8" r="1.4"/><circle cx="519" cy="198.6" r="1.4"/><circle cx="520.7" cy="163.6" r="1.4"/><circle cx="520.7" cy="194.4" r="1.4"/><circle cx="520.69" cy="205.69" r="1.4"/><circle cx="505.27" cy="198.54" r="1.4"/><circle cx="518.84" cy="198.71" r="1.4"/><circle cx="516.05" cy="207.7" r="1.4"/><circle cx="509.25" cy="211.46" r="1.4"/><circle cx="504.32" cy="200.31" r="1.4"/><circle cx="511.73" cy="198.42" r="1.4"/><circle cx="518.1" cy="202.04" r="1.4"/><circle cx="506.39" cy="198.8" r="1.4"/><circle cx="514.7" cy="205.59" r="1.4"/><circle cx="514.71" cy="209.14" r="1.4"/><circle cx="517.73" cy="214.29" r="1.4"/><circle cx="515.64" cy="201.39" r="1.4"/><circle cx="512.08" cy="201.04" r="1.4"/><circle cx="504.18" cy="206.03" r="1.4"/><circle cx="516.14" cy="201.04" r="1.4"/><circle cx="508.63" cy="203.88" r="1.4"/><circle cx="515.85" cy="206.85" r="1.4"/><circle cx="514.45" cy="210.86" r="1.4"/><circle cx="510.69" cy="211.46" r="1.4"/><circle cx="519.41" cy="199.48" r="1.4"/><circle cx="519.85" cy="210.28" r="1.4"/><circle cx="506.21" cy="205.71" r="1.4"/><circle cx="514.63" cy="213.47" r="1.4"/><circle cx="510.41" cy="207.67" r="1.4"/><circle cx="518.95" cy="211.55" r="1.4"/><circle cx="520.05" cy="205.88" r="1.4"/><circle cx="515.07" cy="201.48" r="1.4"/><circle cx="516.27" cy="211.91" r="1.4"/><circle cx="514.91" cy="210.2" r="1.4"/><circle cx="507.63" cy="213.3" r="1.4"/><circle cx="520.67" cy="214.62" r="1.4"/><circle cx="513.13" cy="211.44" r="1.4"/><circle cx="509.45" cy="213.47" r="1.4"/><circle cx="518.55" cy="203.92" r="1.4"/><circle cx="505.41" cy="205.5" r="1.4"/><circle cx="513.36" cy="211.06" r="1.4"/><circle cx="512.29" cy="198.48" r="1.4"/><circle cx="517.76" cy="199.09" r="1.4"/><circle cx="517.6" cy="200.94" r="1.4"/><circle cx="509.7" cy="211.39" r="1.4"/><circle cx="506.39" cy="200.53" r="1.4"/><circle cx="512.78" cy="210.3" r="1.4"/><circle cx="518.28" cy="209.72" r="1.4"/><circle cx="520.08" cy="206.37" r="1.4"/><circle cx="520.14" cy="199.46" r="1.4"/><circle cx="507.76" cy="206.95" r="1.4"/><circle cx="508.93" cy="210.39" r="1.4"/><circle cx="514.86" cy="206.89" r="1.4"/><circle cx="518.34" cy="207.52" r="1.4"/><circle cx="499.43" cy="221.58" r="1.4"/><circle cx="497.74" cy="251.03" r="1.4"/><circle cx="504.61" cy="216.41" r="1.4"/><circle cx="496.75" cy="232.21" r="1.4"/><circle cx="499.34" cy="234.65" r="1.4"/><circle cx="500.89" cy="231.16" r="1.4"/><circle cx="501.74" cy="236.26" r="1.4"/><circle cx="499.92" cy="231.8" r="1.4"/><circle cx="500.82" cy="226.03" r="1.4"/><circle cx="498.11" cy="230.55" r="1.4"/><circle cx="499.28" cy="240.55" r="1.4"/><circle cx="500.82" cy="226.69" r="1.4"/><circle cx="496.54" cy="253.84" r="1.4"/><circle cx="499.28" cy="229.66" r="1.4"/><circle cx="502" cy="212.35" r="1.4"/><circle cx="497.06" cy="251.03" r="1.4"/><circle cx="499.37" cy="229.83" r="1.4"/><circle cx="499.23" cy="236.89" r="1.4"/><circle cx="497.39" cy="252.26" r="1.4"/><circle cx="507.16" cy="207.14" r="1.4"/><circle cx="503.23" cy="215.71" r="1.4"/><circle cx="502.79" cy="222.1" r="1.4"/><circle cx="500.29" cy="223.77" r="1.4"/><circle cx="497.19" cy="242.54" r="1.4"/><circle cx="503.17" cy="212.14" r="1.4"/><circle cx="502.85" cy="215.89" r="1.4"/><circle cx="498.17" cy="232.52" r="1.4"/><circle cx="500.67" cy="226.67" r="1.4"/><circle cx="499.69" cy="232.47" r="1.4"/><circle cx="499.09" cy="237.57" r="1.4"/><circle cx="496.04" cy="237.92" r="1.4"/><circle cx="498.14" cy="236.59" r="1.4"/><circle cx="496.74" cy="248.84" r="1.4"/><circle cx="498.87" cy="246.53" r="1.4"/><circle cx="495.72" cy="251.13" r="1.4"/><circle cx="496.93" cy="252.14" r="1.4"/><circle cx="505.1" cy="216.91" r="1.4"/><circle cx="503.88" cy="212.7" r="1.4"/><circle cx="502.12" cy="217.97" r="1.4"/><circle cx="503.56" cy="210.85" r="1.4"/><circle cx="494.86" cy="247.61" r="1.4"/><circle cx="505.03" cy="212.3" r="1.4"/><circle cx="500.22" cy="226.14" r="1.4"/><circle cx="502.65" cy="216.05" r="1.4"/><circle cx="500.66" cy="240.12" r="1.4"/><circle cx="502.53" cy="211.77" r="1.4"/><circle cx="499.53" cy="231.28" r="1.4"/><circle cx="496.54" cy="240.28" r="1.4"/><circle cx="503.56" cy="215.45" r="1.4"/><circle cx="505.66" cy="207.87" r="1.4"/><circle cx="497.52" cy="233.58" r="1.4"/><circle cx="503.57" cy="213.33" r="1.4"/><circle cx="503.77" cy="215.23" r="1.4"/><circle cx="497.62" cy="255.52" r="1.4"/><circle cx="496.3" cy="252.34" r="1.4"/><circle cx="495.98" cy="253.57" r="1.4"/><circle cx="499.91" cy="229.1" r="1.4"/><circle cx="498.71" cy="229.35" r="1.4"/><circle cx="497.9" cy="231.76" r="1.4"/><circle cx="506.48" cy="206.66" r="1.4"/><circle cx="498.25" cy="241.05" r="1.4"/><circle cx="499.25" cy="228.7" r="1.4"/><circle cx="496.85" cy="242.97" r="1.4"/><circle cx="503.86" cy="214.25" r="1.4"/><circle cx="501.92" cy="231.63" r="1.4"/><circle cx="497.23" cy="246.09" r="1.4"/><circle cx="498.88" cy="241.23" r="1.4"/><circle cx="499" cy="226.23" r="1.4"/><circle cx="495.25" cy="235.98" r="1.4"/><circle cx="496.87" cy="246.24" r="1.4"/><circle cx="503.65" cy="218.91" r="1.4"/><circle cx="496.14" cy="244.9" r="1.4"/><circle cx="494.76" cy="246.73" r="1.4"/><circle cx="497.76" cy="249.99" r="1.4"/><circle cx="498.1" cy="240.74" r="1.4"/><circle cx="498.25" cy="226.29" r="1.4"/><circle cx="498.64" cy="242.13" r="1.4"/><circle cx="500.23" cy="229.44" r="1.4"/><circle cx="504.78" cy="206.53" r="1.4"/><circle cx="499.82" cy="237.2" r="1.4"/></g><g fill="#e8262b"><circle cx="546.7" cy="109.2" r="1.4"/><circle cx="553.6" cy="117.6" r="1.4"/><circle cx="569.8" cy="136.3" r="1.4"/><circle cx="567.2" cy="148.1" r="1.4"/><circle cx="562.4" cy="151.2" r="1.4"/><circle cx="551.7" cy="155.4" r="1.4"/><circle cx="548.3" cy="157.3" r="1.4"/><circle cx="572.7" cy="155.4" r="1.4"/><circle cx="533.4" cy="158.8" r="1.4"/><circle cx="599.2" cy="157.3" r="1.4"/><circle cx="643.6" cy="134.8" r="1.4"/><circle cx="655.6" cy="134.4" r="1.4"/><circle cx="675.8" cy="149.1" r="1.4"/><circle cx="617.2" cy="152.5" r="1.4"/><circle cx="628.1" cy="153.1" r="1.4"/><circle cx="617.2" cy="158.3" r="1.4"/><circle cx="603.8" cy="158.8" r="1.4"/><circle cx="600" cy="157.3" r="1.4"/><circle cx="644.3" cy="159.6" r="1.4"/><circle cx="601.9" cy="161.4" r="1.4"/><circle cx="617.2" cy="158.6" r="1.4"/><circle cx="644.5" cy="159.9" r="1.4"/><circle cx="620.4" cy="165.3" r="1.4"/><circle cx="632.1" cy="168.9" r="1.4"/><circle cx="620.2" cy="172.3" r="1.4"/><circle cx="637.4" cy="172.9" r="1.4"/><circle cx="630.2" cy="176.1" r="1.4"/><circle cx="630.6" cy="180.3" r="1.4"/><circle cx="650.2" cy="177.1" r="1.4"/><circle cx="649.3" cy="178.2" r="1.4"/><circle cx="616.2" cy="180.5" r="1.4"/><circle cx="600" cy="176.1" r="1.4"/><circle cx="620.6" cy="184.7" r="1.4"/><circle cx="622.5" cy="185.7" r="1.4"/><circle cx="623.9" cy="184.4" r="1.4"/><circle cx="626.7" cy="187" r="1.4"/><circle cx="601" cy="185.7" r="1.4"/><circle cx="602.9" cy="186.7" r="1.4"/><circle cx="604.8" cy="187" r="1.4"/><circle cx="601.5" cy="188.2" r="1.4"/><circle cx="611.5" cy="192.4" r="1.4"/><circle cx="616.2" cy="192.4" r="1.4"/><circle cx="601" cy="194.3" r="1.4"/><circle cx="603.8" cy="195.2" r="1.4"/><circle cx="605.3" cy="194.7" r="1.4"/><circle cx="607.3" cy="199.5" r="1.4"/><circle cx="601.5" cy="202.5" r="1.4"/><circle cx="611.6" cy="192.3" r="1.4"/><circle cx="615.7" cy="192.3" r="1.4"/><circle cx="607" cy="199.6" r="1.4"/><circle cx="601.3" cy="201.9" r="1.4"/><circle cx="597.8" cy="199.2" r="1.4"/><circle cx="599.4" cy="195" r="1.4"/><circle cx="602.4" cy="194.6" r="1.4"/><circle cx="604.2" cy="195.7" r="1.4"/><circle cx="594.4" cy="198" r="1.4"/><circle cx="592.1" cy="200.3" r="1.4"/><circle cx="591.6" cy="203.3" r="1.4"/><circle cx="595.5" cy="196.9" r="1.4"/><circle cx="584.1" cy="198.7" r="1.4"/><circle cx="582.9" cy="202.6" r="1.4"/><circle cx="588.2" cy="213.4" r="1.4"/><circle cx="579.5" cy="209.5" r="1.4"/><circle cx="578.3" cy="207.2" r="1.4"/><circle cx="577.2" cy="204.9" r="1.4"/><circle cx="573.8" cy="212.9" r="1.4"/><circle cx="571.5" cy="208.3" r="1.4"/><circle cx="572.6" cy="201.5" r="1.4"/><circle cx="573.8" cy="199.2" r="1.4"/><circle cx="573.3" cy="193.4" r="1.4"/><circle cx="574.2" cy="195.7" r="1.4"/><circle cx="533.6" cy="159.3" r="1.4"/><circle cx="548.2" cy="157.6" r="1.4"/><circle cx="551.8" cy="155.7" r="1.4"/><circle cx="546.6" cy="168.3" r="1.4"/><circle cx="555.8" cy="174.1" r="1.4"/><circle cx="565.3" cy="176.8" r="1.4"/><circle cx="568" cy="179.4" r="1.4"/><circle cx="532.5" cy="174.6" r="1.4"/><circle cx="528.2" cy="176.8" r="1.4"/><circle cx="524.6" cy="179.4" r="1.4"/><circle cx="539.6" cy="178.2" r="1.4"/><circle cx="539.3" cy="180.4" r="1.4"/><circle cx="554.8" cy="180.1" r="1.4"/><circle cx="549.4" cy="182.7" r="1.4"/><circle cx="550.4" cy="183.9" r="1.4"/><circle cx="531.5" cy="183.2" r="1.4"/><circle cx="538.6" cy="184.8" r="1.4"/><circle cx="526.2" cy="186.1" r="1.4"/><circle cx="558" cy="186.1" r="1.4"/><circle cx="559" cy="186.8" r="1.4"/><circle cx="568.4" cy="189.8" r="1.4"/><circle cx="532.9" cy="188.7" r="1.4"/><circle cx="532.2" cy="190.1" r="1.4"/><circle cx="534.3" cy="189.8" r="1.4"/><circle cx="531.5" cy="191.1" r="1.4"/><circle cx="535.8" cy="189.8" r="1.4"/><circle cx="542.9" cy="190.1" r="1.4"/><circle cx="545.8" cy="190.1" r="1.4"/><circle cx="528.2" cy="192.2" r="1.4"/><circle cx="560.8" cy="191.5" r="1.4"/><circle cx="561.5" cy="193" r="1.4"/><circle cx="536.2" cy="195.5" r="1.4"/><circle cx="543.6" cy="195.1" r="1.4"/><circle cx="539.3" cy="198" r="1.4"/><circle cx="541.5" cy="198.7" r="1.4"/><circle cx="542.9" cy="198" r="1.4"/><circle cx="545.1" cy="198.7" r="1.4"/><circle cx="550.8" cy="198.7" r="1.4"/><circle cx="557.5" cy="198" r="1.4"/><circle cx="559.4" cy="199.4" r="1.4"/><circle cx="562.3" cy="198" r="1.4"/><circle cx="528.6" cy="198.7" r="1.4"/><circle cx="532.9" cy="198" r="1.4"/><circle cx="572.9" cy="155.4" r="1.4"/><circle cx="599.4" cy="157.4" r="1.4"/><circle cx="604" cy="158.9" r="1.4"/><circle cx="602" cy="161.5" r="1.4"/><circle cx="594.8" cy="168.6" r="1.4"/><circle cx="595.8" cy="171.5" r="1.4"/><circle cx="599.1" cy="175.8" r="1.4"/><circle cx="598" cy="178.7" r="1.4"/><circle cx="565.7" cy="176.5" r="1.4"/><circle cx="567.9" cy="179.4" r="1.4"/><circle cx="572.4" cy="175.8" r="1.4"/><circle cx="583.3" cy="177.9" r="1.4"/><circle cx="580" cy="180.4" r="1.4"/><circle cx="586.9" cy="179.8" r="1.4"/><circle cx="589.6" cy="181.8" r="1.4"/><circle cx="587.2" cy="183.7" r="1.4"/><circle cx="586.5" cy="187" r="1.4"/><circle cx="599.4" cy="185.1" r="1.4"/><circle cx="602" cy="185.8" r="1.4"/><circle cx="604.4" cy="187" r="1.4"/><circle cx="602.5" cy="188.4" r="1.4"/><circle cx="600.8" cy="187.5" r="1.4"/><circle cx="568.2" cy="189.8" r="1.4"/><circle cx="573.2" cy="193" r="1.4"/><circle cx="598" cy="192.7" r="1.4"/><circle cx="600.8" cy="193.7" r="1.4"/><circle cx="603.7" cy="194.4" r="1.4"/><circle cx="611.1" cy="192.3" r="1.4"/><circle cx="532.22" cy="200.92" r="1.4"/><circle cx="537.5" cy="208.81" r="1.4"/><circle cx="615.1" cy="183.66" r="1.4"/><circle cx="543.93" cy="216.5" r="1.4"/><circle cx="535.3" cy="222.19" r="1.4"/><circle cx="531.79" cy="227.97" r="1.4"/><circle cx="541.13" cy="198.13" r="1.4"/><circle cx="525.92" cy="231.17" r="1.4"/><circle cx="528.51" cy="233.32" r="1.4"/><circle cx="563.19" cy="191.32" r="1.4"/><circle cx="528.7" cy="221.25" r="1.4"/><circle cx="537.8" cy="232.23" r="1.4"/><circle cx="522.53" cy="245.47" r="1.4"/><circle cx="556.95" cy="223.09" r="1.4"/><circle cx="524.22" cy="203.98" r="1.4"/><circle cx="528.79" cy="221.88" r="1.4"/><circle cx="535.58" cy="214.27" r="1.4"/><circle cx="535.15" cy="237.23" r="1.4"/><circle cx="561.45" cy="204.2" r="1.4"/><circle cx="529.74" cy="226.19" r="1.4"/><circle cx="572.22" cy="192.53" r="1.4"/><circle cx="524.41" cy="229.52" r="1.4"/><circle cx="538.18" cy="211.02" r="1.4"/><circle cx="537.42" cy="232.87" r="1.4"/><circle cx="529.96" cy="244.04" r="1.4"/><circle cx="529.94" cy="232.93" r="1.4"/><circle cx="535.09" cy="225.53" r="1.4"/><circle cx="547.62" cy="202.59" r="1.4"/><circle cx="524.74" cy="241.3" r="1.4"/><circle cx="532.53" cy="187.51" r="1.4"/><circle cx="557.91" cy="217.44" r="1.4"/><circle cx="543.72" cy="228.8" r="1.4"/><circle cx="547.26" cy="215.8" r="1.4"/><circle cx="527.92" cy="209.63" r="1.4"/><circle cx="522.71" cy="219.84" r="1.4"/><circle cx="554.63" cy="216.03" r="1.4"/><circle cx="529.36" cy="241.02" r="1.4"/><circle cx="531.93" cy="210.8" r="1.4"/><circle cx="530.73" cy="219.49" r="1.4"/><circle cx="532.46" cy="216.36" r="1.4"/><circle cx="526.96" cy="214.84" r="1.4"/><circle cx="548.79" cy="199.85" r="1.4"/><circle cx="539.05" cy="246.07" r="1.4"/><circle cx="548.23" cy="202.97" r="1.4"/><circle cx="524.44" cy="247.78" r="1.4"/><circle cx="525.54" cy="241.88" r="1.4"/><circle cx="547.14" cy="225.44" r="1.4"/><circle cx="526.47" cy="202.79" r="1.4"/><circle cx="540.47" cy="232.09" r="1.4"/><circle cx="524.39" cy="226.34" r="1.4"/><circle cx="525.15" cy="232.81" r="1.4"/><circle cx="532.95" cy="248.32" r="1.4"/><circle cx="533.64" cy="234.22" r="1.4"/><circle cx="536.83" cy="206.06" r="1.4"/><circle cx="556.92" cy="194.24" r="1.4"/><circle cx="532.25" cy="214.84" r="1.4"/><circle cx="522.81" cy="238.43" r="1.4"/><circle cx="532.74" cy="209.64" r="1.4"/><circle cx="553.68" cy="179.29" r="1.4"/><circle cx="544.09" cy="214.38" r="1.4"/><circle cx="530.54" cy="220.73" r="1.4"/><circle cx="530.88" cy="218.49" r="1.4"/><circle cx="531.98" cy="216.56" r="1.4"/><circle cx="536.74" cy="225.48" r="1.4"/><circle cx="541.41" cy="194.17" r="1.4"/><circle cx="525.95" cy="227.53" r="1.4"/><circle cx="538.39" cy="190.82" r="1.4"/><circle cx="531.19" cy="214.63" r="1.4"/><circle cx="547.49" cy="214.73" r="1.4"/><circle cx="609.02" cy="173.17" r="1.4"/><circle cx="558.6" cy="207.87" r="1.4"/><circle cx="526.89" cy="242.17" r="1.4"/><circle cx="526.91" cy="217.47" r="1.4"/><circle cx="524.24" cy="225.84" r="1.4"/><circle cx="546.39" cy="231.71" r="1.4"/><circle cx="530.49" cy="233.96" r="1.4"/><circle cx="534.94" cy="214.99" r="1.4"/><circle cx="525.15" cy="232.18" r="1.4"/><circle cx="569.38" cy="203.91" r="1.4"/><circle cx="538.18" cy="203.41" r="1.4"/><circle cx="528.64" cy="216.73" r="1.4"/><circle cx="570.51" cy="224.88" r="1.4"/><circle cx="540.9" cy="216.54" r="1.4"/><circle cx="525.12" cy="229.99" r="1.4"/><circle cx="567.96" cy="197.24" r="1.4"/><circle cx="528.01" cy="200.46" r="1.4"/><circle cx="526.61" cy="212.59" r="1.4"/><circle cx="538.38" cy="221.81" r="1.4"/><circle cx="526.47" cy="225.83" r="1.4"/><circle cx="609.37" cy="198.87" r="1.4"/><circle cx="529.85" cy="215.31" r="1.4"/><circle cx="544.75" cy="215.03" r="1.4"/><circle cx="540.42" cy="205.3" r="1.4"/><circle cx="555.07" cy="219.34" r="1.4"/><circle cx="535.12" cy="221.23" r="1.4"/><circle cx="525.59" cy="211.05" r="1.4"/><circle cx="526.32" cy="235.99" r="1.4"/><circle cx="537.17" cy="217.94" r="1.4"/><circle cx="530.57" cy="239.82" r="1.4"/><circle cx="543.03" cy="235.26" r="1.4"/><circle cx="525.63" cy="229.45" r="1.4"/><circle cx="586.55" cy="187.93" r="1.4"/><circle cx="533.1" cy="212.37" r="1.4"/><circle cx="542.05" cy="209.16" r="1.4"/><circle cx="550.36" cy="194.18" r="1.4"/><circle cx="535.8" cy="245.2" r="1.4"/><circle cx="561.13" cy="207.86" r="1.4"/><circle cx="533.02" cy="205.46" r="1.4"/><circle cx="569.63" cy="210.61" r="1.4"/><circle cx="537.43" cy="205.51" r="1.4"/><circle cx="569.43" cy="203.02" r="1.4"/><circle cx="530.23" cy="243.02" r="1.4"/><circle cx="568.58" cy="211.35" r="1.4"/><circle cx="548.84" cy="197.18" r="1.4"/><circle cx="529.77" cy="209.7" r="1.4"/><circle cx="540.5" cy="223.93" r="1.4"/><circle cx="534.35" cy="223.58" r="1.4"/><circle cx="536.47" cy="216.29" r="1.4"/><circle cx="546.24" cy="217.8" r="1.4"/><circle cx="537.44" cy="220.04" r="1.4"/><circle cx="532.57" cy="232.9" r="1.4"/><circle cx="527.88" cy="250.94" r="1.4"/><circle cx="590.41" cy="204.55" r="1.4"/><circle cx="544.41" cy="225.01" r="1.4"/><circle cx="555.22" cy="201.91" r="1.4"/><circle cx="527.51" cy="223.37" r="1.4"/><circle cx="569.25" cy="190.49" r="1.4"/><circle cx="524.58" cy="226.94" r="1.4"/><circle cx="537.93" cy="212.57" r="1.4"/><circle cx="582.81" cy="206.62" r="1.4"/><circle cx="529.61" cy="222.84" r="1.4"/><circle cx="530.35" cy="249" r="1.4"/><circle cx="556.3" cy="220.54" r="1.4"/><circle cx="532.63" cy="210.42" r="1.4"/><circle cx="523.44" cy="240.09" r="1.4"/><circle cx="523.13" cy="235.34" r="1.4"/><circle cx="536.3" cy="213.06" r="1.4"/><circle cx="576.84" cy="213.57" r="1.4"/><circle cx="527.13" cy="221.71" r="1.4"/><circle cx="529.5" cy="248.44" r="1.4"/><circle cx="526.85" cy="210.37" r="1.4"/><circle cx="558.89" cy="201.49" r="1.4"/><circle cx="526.27" cy="236.66" r="1.4"/><circle cx="564.86" cy="214.63" r="1.4"/><circle cx="542.51" cy="216.75" r="1.4"/><circle cx="526.75" cy="227.3" r="1.4"/><circle cx="524.74" cy="221.95" r="1.4"/><circle cx="548.38" cy="204.05" r="1.4"/><circle cx="563.24" cy="230.56" r="1.4"/><circle cx="547.48" cy="227.53" r="1.4"/><circle cx="578.05" cy="213.34" r="1.4"/><circle cx="534.28" cy="229.01" r="1.4"/><circle cx="529.84" cy="227.29" r="1.4"/><circle cx="547.29" cy="217.45" r="1.4"/><circle cx="527.87" cy="231.74" r="1.4"/><circle cx="544.35" cy="219.25" r="1.4"/><circle cx="544.19" cy="204.37" r="1.4"/><circle cx="565.66" cy="199.63" r="1.4"/><circle cx="529.66" cy="217.54" r="1.4"/><circle cx="574.78" cy="198.12" r="1.4"/><circle cx="542.93" cy="207.89" r="1.4"/><circle cx="524.39" cy="240.03" r="1.4"/><circle cx="537.53" cy="217.74" r="1.4"/><circle cx="537.64" cy="236.19" r="1.4"/><circle cx="529.2" cy="228.16" r="1.4"/><circle cx="528.28" cy="225.31" r="1.4"/><circle cx="529.21" cy="217.49" r="1.4"/><circle cx="550.69" cy="213.57" r="1.4"/><circle cx="538.39" cy="229.4" r="1.4"/><circle cx="523.18" cy="200.73" r="1.4"/><circle cx="534.88" cy="220.48" r="1.4"/><circle cx="575.48" cy="191.5" r="1.4"/><circle cx="536.36" cy="226.92" r="1.4"/><circle cx="543.21" cy="231.39" r="1.4"/><circle cx="531.41" cy="209.16" r="1.4"/><circle cx="537.04" cy="200.22" r="1.4"/><circle cx="536.59" cy="230.93" r="1.4"/><circle cx="537.2" cy="202.94" r="1.4"/><circle cx="583.04" cy="207.05" r="1.4"/><circle cx="526.11" cy="245.66" r="1.4"/><circle cx="541.23" cy="218.85" r="1.4"/><circle cx="552.16" cy="225.77" r="1.4"/><circle cx="553.39" cy="214.38" r="1.4"/><circle cx="535.93" cy="210.6" r="1.4"/><circle cx="527.5" cy="209.64" r="1.4"/><circle cx="523.22" cy="217.76" r="1.4"/><circle cx="540.67" cy="214.12" r="1.4"/><circle cx="563.75" cy="192.78" r="1.4"/><circle cx="526.47" cy="225.72" r="1.4"/><circle cx="536.21" cy="221.87" r="1.4"/><circle cx="533.91" cy="211.16" r="1.4"/><circle cx="554.54" cy="214.96" r="1.4"/><circle cx="524.01" cy="240.39" r="1.4"/><circle cx="538.17" cy="209.63" r="1.4"/><circle cx="553.87" cy="212.4" r="1.4"/><circle cx="529.95" cy="230.25" r="1.4"/><circle cx="523.36" cy="217.96" r="1.4"/><circle cx="537.41" cy="236.08" r="1.4"/><circle cx="528.65" cy="218.25" r="1.4"/><circle cx="556.86" cy="207.82" r="1.4"/><circle cx="526.27" cy="224.06" r="1.4"/><circle cx="545.97" cy="222.87" r="1.4"/><circle cx="558.05" cy="210.97" r="1.4"/><circle cx="533.07" cy="216.62" r="1.4"/><circle cx="531.56" cy="229.42" r="1.4"/><circle cx="535.95" cy="222.68" r="1.4"/><circle cx="525.62" cy="184.27" r="1.4"/><circle cx="534.65" cy="220.41" r="1.4"/><circle cx="528.01" cy="219.66" r="1.4"/><circle cx="566.66" cy="213.27" r="1.4"/><circle cx="529.58" cy="233.35" r="1.4"/><circle cx="533.55" cy="224.15" r="1.4"/><circle cx="551.32" cy="214.53" r="1.4"/><circle cx="548.99" cy="215.28" r="1.4"/><circle cx="538.55" cy="228.66" r="1.4"/><circle cx="528.03" cy="192.7" r="1.4"/><circle cx="531.55" cy="229.4" r="1.4"/><circle cx="530.72" cy="240.73" r="1.4"/><circle cx="523.31" cy="223.38" r="1.4"/><circle cx="532.82" cy="218.62" r="1.4"/><circle cx="530.91" cy="218.43" r="1.4"/><circle cx="546.23" cy="226.39" r="1.4"/><circle cx="566" cy="194.97" r="1.4"/><circle cx="534.92" cy="200.46" r="1.4"/><circle cx="532.1" cy="237.78" r="1.4"/><circle cx="552.91" cy="214.74" r="1.4"/><circle cx="526.56" cy="236.58" r="1.4"/><circle cx="538.45" cy="223.36" r="1.4"/><circle cx="527.33" cy="231.76" r="1.4"/><circle cx="535.11" cy="215.14" r="1.4"/><circle cx="545.24" cy="228.6" r="1.4"/><circle cx="562.22" cy="211.34" r="1.4"/><circle cx="524.01" cy="238.44" r="1.4"/><circle cx="546.01" cy="208.85" r="1.4"/><circle cx="522.87" cy="234.33" r="1.4"/><circle cx="526.52" cy="223.13" r="1.4"/><circle cx="573.93" cy="213.73" r="1.4"/><circle cx="547.62" cy="213.32" r="1.4"/><circle cx="525.83" cy="237.47" r="1.4"/><circle cx="577.68" cy="189.59" r="1.4"/><circle cx="548.21" cy="230.81" r="1.4"/><circle cx="570.02" cy="214.37" r="1.4"/><circle cx="532.2" cy="223.15" r="1.4"/><circle cx="524.24" cy="234.33" r="1.4"/><circle cx="551.96" cy="205.44" r="1.4"/><circle cx="537.15" cy="231.77" r="1.4"/><circle cx="527.94" cy="228.18" r="1.4"/><circle cx="523.33" cy="236.57" r="1.4"/><circle cx="523.15" cy="240.96" r="1.4"/><circle cx="529.99" cy="207.55" r="1.4"/><circle cx="525.42" cy="232.64" r="1.4"/><circle cx="547.02" cy="213.65" r="1.4"/><circle cx="544.44" cy="236.48" r="1.4"/><circle cx="525.68" cy="227.71" r="1.4"/><circle cx="547.45" cy="224.51" r="1.4"/><circle cx="532.89" cy="201.04" r="1.4"/><circle cx="527.62" cy="241.65" r="1.4"/><circle cx="529.41" cy="217.57" r="1.4"/><circle cx="523.33" cy="233.67" r="1.4"/><circle cx="523" cy="213.45" r="1.4"/><circle cx="555.59" cy="199.77" r="1.4"/><circle cx="596.76" cy="188.35" r="1.4"/><circle cx="572.78" cy="219" r="1.4"/><circle cx="527.37" cy="216.23" r="1.4"/><circle cx="584.59" cy="183.93" r="1.4"/><circle cx="563.06" cy="209.33" r="1.4"/><circle cx="524.38" cy="244.71" r="1.4"/><circle cx="533.66" cy="217.32" r="1.4"/><circle cx="532.17" cy="224.6" r="1.4"/><circle cx="530.46" cy="211.47" r="1.4"/><circle cx="525.95" cy="224.65" r="1.4"/><circle cx="532.8" cy="213.38" r="1.4"/><circle cx="544.38" cy="217.34" r="1.4"/><circle cx="527.98" cy="233.96" r="1.4"/><circle cx="533.47" cy="227.8" r="1.4"/><circle cx="525.77" cy="205.9" r="1.4"/><circle cx="538.61" cy="208.69" r="1.4"/><circle cx="546.59" cy="227.54" r="1.4"/><circle cx="531.56" cy="223.86" r="1.4"/><circle cx="523.8" cy="221.57" r="1.4"/><circle cx="536.19" cy="222.34" r="1.4"/><circle cx="540.13" cy="206.8" r="1.4"/><circle cx="528.34" cy="225.72" r="1.4"/><circle cx="522.98" cy="208.91" r="1.4"/><circle cx="539.18" cy="240.96" r="1.4"/><circle cx="528.57" cy="218.96" r="1.4"/><circle cx="535.17" cy="212.91" r="1.4"/><circle cx="541.6" cy="229.11" r="1.4"/><circle cx="539.67" cy="214.81" r="1.4"/><circle cx="579.58" cy="202.31" r="1.4"/><circle cx="541.89" cy="199.4" r="1.4"/><circle cx="533.09" cy="211.97" r="1.4"/><circle cx="557.89" cy="214.9" r="1.4"/><circle cx="564.86" cy="188.42" r="1.4"/><circle cx="523.28" cy="246.33" r="1.4"/><circle cx="525.42" cy="212.82" r="1.4"/><circle cx="531.44" cy="221.46" r="1.4"/><circle cx="597.93" cy="195.7" r="1.4"/><circle cx="527.69" cy="230.9" r="1.4"/><circle cx="545.3" cy="215.79" r="1.4"/><circle cx="538.2" cy="219.5" r="1.4"/><circle cx="532.51" cy="222.54" r="1.4"/><circle cx="543.51" cy="231.38" r="1.4"/><circle cx="538.39" cy="206.97" r="1.4"/><circle cx="558.07" cy="199.27" r="1.4"/><circle cx="591.86" cy="190.24" r="1.4"/><circle cx="565.99" cy="215.53" r="1.4"/><circle cx="530.02" cy="218.18" r="1.4"/><circle cx="545.7" cy="196.56" r="1.4"/><circle cx="588.94" cy="198.76" r="1.4"/><circle cx="541.94" cy="210.5" r="1.4"/><circle cx="535.99" cy="208.26" r="1.4"/><circle cx="529.23" cy="217.87" r="1.4"/><circle cx="550.14" cy="204.69" r="1.4"/><circle cx="528.24" cy="221.29" r="1.4"/><circle cx="530.36" cy="229.58" r="1.4"/><circle cx="525.19" cy="239.72" r="1.4"/><circle cx="523.81" cy="231.28" r="1.4"/><circle cx="546.9" cy="217.45" r="1.4"/><circle cx="524.89" cy="202.19" r="1.4"/><circle cx="535.61" cy="226.91" r="1.4"/><circle cx="526.05" cy="242.98" r="1.4"/><circle cx="523.6" cy="204.55" r="1.4"/><circle cx="528.36" cy="199.04" r="1.4"/><circle cx="532.46" cy="220.4" r="1.4"/><circle cx="547.67" cy="214.45" r="1.4"/><circle cx="530.42" cy="243.89" r="1.4"/><circle cx="530.62" cy="223.86" r="1.4"/><circle cx="557.77" cy="187.31" r="1.4"/><circle cx="539.26" cy="200.58" r="1.4"/><circle cx="542.01" cy="226.84" r="1.4"/><circle cx="558.06" cy="211.94" r="1.4"/><circle cx="531.96" cy="215.15" r="1.4"/><circle cx="544.63" cy="217" r="1.4"/><circle cx="522.78" cy="234.75" r="1.4"/><circle cx="540.11" cy="250.09" r="1.4"/><circle cx="525.37" cy="211.42" r="1.4"/><circle cx="545.77" cy="199.96" r="1.4"/><circle cx="532.61" cy="230.64" r="1.4"/><circle cx="576.67" cy="205.01" r="1.4"/><circle cx="547.48" cy="214.48" r="1.4"/><circle cx="525.02" cy="235.83" r="1.4"/><circle cx="548.78" cy="216.86" r="1.4"/><circle cx="525.06" cy="223.3" r="1.4"/><circle cx="538.14" cy="221.61" r="1.4"/><circle cx="535.7" cy="212.11" r="1.4"/><circle cx="554.74" cy="218.9" r="1.4"/><circle cx="558.99" cy="207.1" r="1.4"/><circle cx="541.73" cy="229.87" r="1.4"/><circle cx="551.5" cy="225.04" r="1.4"/><circle cx="546.19" cy="213.85" r="1.4"/><circle cx="538.29" cy="221.18" r="1.4"/><circle cx="526.35" cy="216.89" r="1.4"/><circle cx="524.77" cy="234.62" r="1.4"/><circle cx="535.9" cy="215.9" r="1.4"/><circle cx="525.07" cy="223.63" r="1.4"/><circle cx="539.19" cy="220.78" r="1.4"/><circle cx="525.6" cy="216.8" r="1.4"/><circle cx="527.66" cy="215.91" r="1.4"/><circle cx="535.66" cy="213.26" r="1.4"/><circle cx="523.55" cy="233.59" r="1.4"/><circle cx="523.83" cy="234.75" r="1.4"/><circle cx="524.13" cy="217.8" r="1.4"/><circle cx="526.53" cy="177.33" r="1.4"/><circle cx="527.02" cy="228.85" r="1.4"/><circle cx="562.89" cy="195.91" r="1.4"/><circle cx="555.4" cy="212.42" r="1.4"/><circle cx="532.58" cy="237.31" r="1.4"/><circle cx="543.89" cy="222.07" r="1.4"/><circle cx="542.01" cy="212.08" r="1.4"/><circle cx="562.49" cy="235.03" r="1.4"/><circle cx="534.21" cy="231.46" r="1.4"/><circle cx="526.37" cy="205.13" r="1.4"/><circle cx="523.04" cy="229.18" r="1.4"/><circle cx="524.05" cy="231.41" r="1.4"/><circle cx="531.39" cy="222.26" r="1.4"/><circle cx="536.94" cy="208.19" r="1.4"/><circle cx="522.71" cy="234.68" r="1.4"/><circle cx="537.48" cy="227.82" r="1.4"/><circle cx="549.09" cy="193.59" r="1.4"/><circle cx="532.69" cy="229.63" r="1.4"/><circle cx="551.7" cy="191.16" r="1.4"/><circle cx="607.79" cy="205.16" r="1.4"/><circle cx="532.79" cy="240.79" r="1.4"/><circle cx="546.93" cy="214.92" r="1.4"/><circle cx="539.7" cy="220.09" r="1.4"/><circle cx="531.72" cy="235.05" r="1.4"/><circle cx="543.9" cy="220.88" r="1.4"/><circle cx="542.82" cy="205.56" r="1.4"/><circle cx="531.24" cy="216.73" r="1.4"/><circle cx="530.26" cy="251.39" r="1.4"/><circle cx="524.48" cy="213.51" r="1.4"/><circle cx="527.25" cy="243.3" r="1.4"/><circle cx="549.69" cy="195.87" r="1.4"/><circle cx="526.4" cy="218.29" r="1.4"/><circle cx="524.74" cy="233.02" r="1.4"/><circle cx="533.77" cy="230.61" r="1.4"/><circle cx="522.69" cy="211.7" r="1.4"/><circle cx="530.26" cy="222.29" r="1.4"/><circle cx="537.91" cy="227.52" r="1.4"/><circle cx="564.99" cy="204.59" r="1.4"/><circle cx="530.24" cy="222.69" r="1.4"/><circle cx="610.14" cy="182.38" r="1.4"/><circle cx="533.75" cy="230.07" r="1.4"/><circle cx="532.99" cy="219.09" r="1.4"/><circle cx="546.99" cy="219.37" r="1.4"/><circle cx="545.12" cy="224.91" r="1.4"/><circle cx="581.51" cy="196.53" r="1.4"/><circle cx="531.34" cy="229.73" r="1.4"/><circle cx="613.57" cy="192.25" r="1.4"/><circle cx="532" cy="237.01" r="1.4"/><circle cx="543.15" cy="220.85" r="1.4"/><circle cx="566.22" cy="221.63" r="1.4"/><circle cx="561.31" cy="198.98" r="1.4"/><circle cx="539.27" cy="207.31" r="1.4"/><circle cx="524.92" cy="235.98" r="1.4"/><circle cx="534.57" cy="203.25" r="1.4"/><circle cx="544.4" cy="205.21" r="1.4"/><circle cx="527.73" cy="230.19" r="1.4"/><circle cx="540.86" cy="203.81" r="1.4"/><circle cx="523.15" cy="218.29" r="1.4"/><circle cx="542.24" cy="200.88" r="1.4"/><circle cx="540.56" cy="223.56" r="1.4"/><circle cx="576.15" cy="208.86" r="1.4"/><circle cx="549.29" cy="225.32" r="1.4"/><circle cx="530.01" cy="219.22" r="1.4"/><circle cx="532.79" cy="181.15" r="1.4"/><circle cx="562.92" cy="232.4" r="1.4"/><circle cx="536.01" cy="248.55" r="1.4"/><circle cx="527.83" cy="234.23" r="1.4"/><circle cx="578.01" cy="187.99" r="1.4"/><circle cx="557.85" cy="214.29" r="1.4"/><circle cx="523.84" cy="209.47" r="1.4"/><circle cx="563.32" cy="205.54" r="1.4"/><circle cx="555.42" cy="202.31" r="1.4"/><circle cx="534.61" cy="194.65" r="1.4"/><circle cx="526.86" cy="217.81" r="1.4"/><circle cx="529.06" cy="219.75" r="1.4"/><circle cx="538.69" cy="214.71" r="1.4"/><circle cx="553.44" cy="203.06" r="1.4"/><circle cx="554.69" cy="212.04" r="1.4"/><circle cx="561.13" cy="210.54" r="1.4"/><circle cx="569.72" cy="190.77" r="1.4"/><circle cx="554.37" cy="218.34" r="1.4"/><circle cx="524.61" cy="235.85" r="1.4"/><circle cx="523.25" cy="209.86" r="1.4"/><circle cx="558.4" cy="229.38" r="1.4"/><circle cx="525" cy="230.59" r="1.4"/><circle cx="560.34" cy="219.56" r="1.4"/><circle cx="541.7" cy="221.41" r="1.4"/><circle cx="610.73" cy="184.35" r="1.4"/><circle cx="527.13" cy="204.6" r="1.4"/><circle cx="548.51" cy="195.83" r="1.4"/><circle cx="526.89" cy="216.87" r="1.4"/><circle cx="522.81" cy="212.93" r="1.4"/><circle cx="530.8" cy="214.67" r="1.4"/><circle cx="529.03" cy="240.65" r="1.4"/><circle cx="540.98" cy="214.92" r="1.4"/><circle cx="525.24" cy="216.55" r="1.4"/><circle cx="546.17" cy="208.88" r="1.4"/><circle cx="526.99" cy="198.7" r="1.4"/><circle cx="548.23" cy="185.87" r="1.4"/><circle cx="530.43" cy="199.89" r="1.4"/><circle cx="551.74" cy="194.2" r="1.4"/><circle cx="537.49" cy="184.83" r="1.4"/><circle cx="539.56" cy="181.22" r="1.4"/><circle cx="549.14" cy="187.34" r="1.4"/><circle cx="557.27" cy="187" r="1.4"/><circle cx="541.64" cy="189.14" r="1.4"/><circle cx="562.49" cy="185.62" r="1.4"/><circle cx="552.26" cy="183.17" r="1.4"/><circle cx="546.91" cy="184.27" r="1.4"/><circle cx="559.52" cy="184.3" r="1.4"/><circle cx="558.74" cy="192.89" r="1.4"/><circle cx="541.56" cy="198.54" r="1.4"/><circle cx="538.67" cy="194.35" r="1.4"/><circle cx="547.85" cy="187.87" r="1.4"/><circle cx="524.76" cy="187.22" r="1.4"/><circle cx="534.1" cy="187.7" r="1.4"/><circle cx="563.04" cy="184.45" r="1.4"/><circle cx="551.88" cy="192.79" r="1.4"/><circle cx="532.52" cy="187.05" r="1.4"/><circle cx="527.68" cy="197.7" r="1.4"/><circle cx="532.82" cy="187.25" r="1.4"/><circle cx="536.69" cy="196.05" r="1.4"/></g>
<line x1="461.8" x2="461.8" y1="51.5" y2="277.5" stroke="#7894a0" stroke-width="1.4"/><line x1="522.2" x2="522.2" y1="51.5" y2="277.5" stroke="#7894a0" stroke-width="1.4"/><line x1="391" x2="659.5" y1="257.5" y2="257.5" stroke="#5f97a8" stroke-width="1.1"/>
<path d="M387 45.5V277.5H681.5" stroke="#666" stroke-width="1.2" fill="none"/><line x1="383" x2="387" y1="273.8" y2="273.8" stroke="#444" stroke-width="1"/><text x="381" y="276.3" text-anchor="end" class="tb">0</text><line x1="383" x2="387" y1="234.95" y2="234.95" stroke="#444" stroke-width="1"/><text x="381" y="237.45" text-anchor="end" class="tb">5</text><line x1="383" x2="387" y1="196.1" y2="196.1" stroke="#444" stroke-width="1"/><text x="381" y="198.6" text-anchor="end" class="tb">10</text><line x1="383" x2="387" y1="157.25" y2="157.25" stroke="#444" stroke-width="1"/><text x="381" y="159.75" text-anchor="end" class="tb">15</text><line x1="383" x2="387" y1="118.4" y2="118.4" stroke="#444" stroke-width="1"/><text x="381" y="120.9" text-anchor="end" class="tb">20</text><line x1="383" x2="387" y1="79.55" y2="79.55" stroke="#444" stroke-width="1"/><text x="381" y="82.05" text-anchor="end" class="tb">25</text><line x1="401.4" x2="401.4" y1="277.5" y2="281.7" stroke="#444" stroke-width="1"/><text x="401.4" y="289.8" text-anchor="middle" class="tb">-3</text><line x1="431.6" x2="431.6" y1="277.5" y2="281.7" stroke="#444" stroke-width="1"/><text x="431.6" y="289.8" text-anchor="middle" class="tb">-2</text><line x1="461.8" x2="461.8" y1="277.5" y2="281.7" stroke="#444" stroke-width="1"/><text x="461.8" y="289.8" text-anchor="middle" class="tb">-1</text><line x1="492" x2="492" y1="277.5" y2="281.7" stroke="#444" stroke-width="1"/><text x="492" y="289.8" text-anchor="middle" class="tb">0</text><line x1="522.2" x2="522.2" y1="277.5" y2="281.7" stroke="#444" stroke-width="1"/><text x="522.2" y="289.8" text-anchor="middle" class="tb">1</text><line x1="552.4" x2="552.4" y1="277.5" y2="281.7" stroke="#444" stroke-width="1"/><text x="552.4" y="289.8" text-anchor="middle" class="tb">2</text><line x1="582.6" x2="582.6" y1="277.5" y2="281.7" stroke="#444" stroke-width="1"/><text x="582.6" y="289.8" text-anchor="middle" class="tb">3</text><line x1="612.8" x2="612.8" y1="277.5" y2="281.7" stroke="#444" stroke-width="1"/><text x="612.8" y="289.8" text-anchor="middle" class="tb">4</text><line x1="643" x2="643" y1="277.5" y2="281.7" stroke="#444" stroke-width="1"/><text x="643" y="289.8" text-anchor="middle" class="tb">5</text><line x1="673.2" x2="673.2" y1="277.5" y2="281.7" stroke="#444" stroke-width="1"/><text x="673.2" y="289.8" text-anchor="middle" class="tb">6</text>
<text x="0" y="0" transform="translate(358.8,160.7) rotate(-90)" text-anchor="middle" class="axl" style="font-size:10.75px">-log10(Pvalue)</text>
<text x="541.3" y="308.7" text-anchor="middle" class="axl">log2(fold change)</text>
</svg>
</body></html>
